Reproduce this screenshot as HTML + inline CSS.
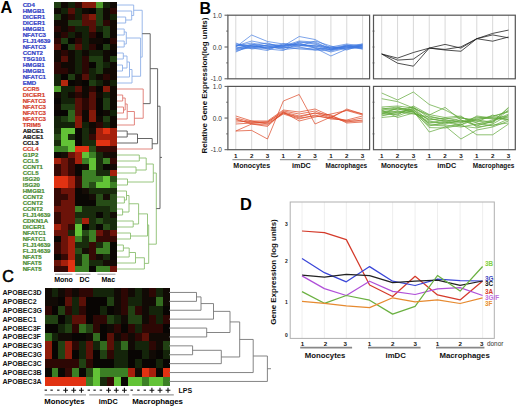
<!DOCTYPE html><html><head><meta charset="utf-8"><style>html,body{margin:0;padding:0;background:#fff;}svg{display:block;font-family:"Liberation Sans",sans-serif;}</style></head><body>
<svg width="520" height="408" viewBox="0 0 520 408">
<rect width="520" height="408" fill="#fff"/>
<text x="0.6" y="12.5" font-size="16.2" font-weight="bold" fill="#000" text-anchor="start" >A</text>
<text x="199.5" y="13.5" font-size="16" font-weight="bold" fill="#000" text-anchor="start" >B</text>
<text x="2.3" y="281.5" font-size="16" font-weight="normal" fill="#000" text-anchor="start" stroke="#000" stroke-width="0.6">C</text>
<text x="240.0" y="210.4" font-size="16.4" font-weight="bold" fill="#000" text-anchor="start" >D</text>
<g shape-rendering="crispEdges">
<rect x="54.00" y="2.00" width="7.05" height="6.05" fill="rgb(31,61,18)"/>
<rect x="61.00" y="2.00" width="7.05" height="6.05" fill="rgb(16,9,4)"/>
<rect x="68.00" y="2.00" width="7.05" height="6.05" fill="rgb(19,34,9)"/>
<rect x="75.00" y="2.00" width="7.05" height="6.05" fill="rgb(43,7,4)"/>
<rect x="82.00" y="2.00" width="7.05" height="6.05" fill="rgb(132,25,9)"/>
<rect x="89.00" y="2.00" width="7.05" height="6.05" fill="rgb(132,25,9)"/>
<rect x="96.00" y="2.00" width="7.05" height="6.05" fill="rgb(78,156,43)"/>
<rect x="103.00" y="2.00" width="7.05" height="6.05" fill="rgb(19,34,9)"/>
<rect x="110.00" y="2.00" width="7.05" height="6.05" fill="rgb(16,9,4)"/>
<rect x="54.00" y="8.00" width="7.05" height="6.05" fill="rgb(16,9,4)"/>
<rect x="61.00" y="8.00" width="7.05" height="6.05" fill="rgb(19,34,9)"/>
<rect x="68.00" y="8.00" width="7.05" height="6.05" fill="rgb(86,15,7)"/>
<rect x="75.00" y="8.00" width="7.05" height="6.05" fill="rgb(19,34,9)"/>
<rect x="82.00" y="8.00" width="7.05" height="6.05" fill="rgb(16,9,4)"/>
<rect x="89.00" y="8.00" width="7.05" height="6.05" fill="rgb(8,5,3)"/>
<rect x="96.00" y="8.00" width="7.05" height="6.05" fill="rgb(31,61,18)"/>
<rect x="103.00" y="8.00" width="7.05" height="6.05" fill="rgb(16,9,4)"/>
<rect x="110.00" y="8.00" width="7.05" height="6.05" fill="rgb(43,7,4)"/>
<rect x="54.00" y="14.00" width="7.05" height="6.05" fill="rgb(31,61,18)"/>
<rect x="61.00" y="14.00" width="7.05" height="6.05" fill="rgb(16,9,4)"/>
<rect x="68.00" y="14.00" width="7.05" height="6.05" fill="rgb(43,7,4)"/>
<rect x="75.00" y="14.00" width="7.05" height="6.05" fill="rgb(19,34,9)"/>
<rect x="82.00" y="14.00" width="7.05" height="6.05" fill="rgb(86,15,7)"/>
<rect x="89.00" y="14.00" width="7.05" height="6.05" fill="rgb(132,25,9)"/>
<rect x="96.00" y="14.00" width="7.05" height="6.05" fill="rgb(31,61,18)"/>
<rect x="103.00" y="14.00" width="7.05" height="6.05" fill="rgb(16,9,4)"/>
<rect x="110.00" y="14.00" width="7.05" height="6.05" fill="rgb(19,34,9)"/>
<rect x="54.00" y="20.00" width="7.05" height="6.05" fill="rgb(16,9,4)"/>
<rect x="61.00" y="20.00" width="7.05" height="6.05" fill="rgb(16,9,4)"/>
<rect x="68.00" y="20.00" width="7.05" height="6.05" fill="rgb(31,61,18)"/>
<rect x="75.00" y="20.00" width="7.05" height="6.05" fill="rgb(31,61,18)"/>
<rect x="82.00" y="20.00" width="7.05" height="6.05" fill="rgb(86,15,7)"/>
<rect x="89.00" y="20.00" width="7.05" height="6.05" fill="rgb(86,15,7)"/>
<rect x="96.00" y="20.00" width="7.05" height="6.05" fill="rgb(31,61,18)"/>
<rect x="103.00" y="20.00" width="7.05" height="6.05" fill="rgb(43,7,4)"/>
<rect x="110.00" y="20.00" width="7.05" height="6.05" fill="rgb(16,9,4)"/>
<rect x="54.00" y="26.00" width="7.05" height="6.05" fill="rgb(43,7,4)"/>
<rect x="61.00" y="26.00" width="7.05" height="6.05" fill="rgb(16,9,4)"/>
<rect x="68.00" y="26.00" width="7.05" height="6.05" fill="rgb(43,7,4)"/>
<rect x="75.00" y="26.00" width="7.05" height="6.05" fill="rgb(19,34,9)"/>
<rect x="82.00" y="26.00" width="7.05" height="6.05" fill="rgb(19,34,9)"/>
<rect x="89.00" y="26.00" width="7.05" height="6.05" fill="rgb(86,15,7)"/>
<rect x="96.00" y="26.00" width="7.05" height="6.05" fill="rgb(19,34,9)"/>
<rect x="103.00" y="26.00" width="7.05" height="6.05" fill="rgb(31,61,18)"/>
<rect x="110.00" y="26.00" width="7.05" height="6.05" fill="rgb(16,9,4)"/>
<rect x="54.00" y="32.00" width="7.05" height="6.05" fill="rgb(16,9,4)"/>
<rect x="61.00" y="32.00" width="7.05" height="6.05" fill="rgb(43,7,4)"/>
<rect x="68.00" y="32.00" width="7.05" height="6.05" fill="rgb(19,34,9)"/>
<rect x="75.00" y="32.00" width="7.05" height="6.05" fill="rgb(16,9,4)"/>
<rect x="82.00" y="32.00" width="7.05" height="6.05" fill="rgb(19,34,9)"/>
<rect x="89.00" y="32.00" width="7.05" height="6.05" fill="rgb(43,7,4)"/>
<rect x="96.00" y="32.00" width="7.05" height="6.05" fill="rgb(8,5,3)"/>
<rect x="103.00" y="32.00" width="7.05" height="6.05" fill="rgb(31,61,18)"/>
<rect x="110.00" y="32.00" width="7.05" height="6.05" fill="rgb(16,9,4)"/>
<rect x="54.00" y="38.00" width="7.05" height="6.05" fill="rgb(43,7,4)"/>
<rect x="61.00" y="38.00" width="7.05" height="6.05" fill="rgb(31,61,18)"/>
<rect x="68.00" y="38.00" width="7.05" height="6.05" fill="rgb(8,5,3)"/>
<rect x="75.00" y="38.00" width="7.05" height="6.05" fill="rgb(43,7,4)"/>
<rect x="82.00" y="38.00" width="7.05" height="6.05" fill="rgb(19,34,9)"/>
<rect x="89.00" y="38.00" width="7.05" height="6.05" fill="rgb(16,9,4)"/>
<rect x="96.00" y="38.00" width="7.05" height="6.05" fill="rgb(16,9,4)"/>
<rect x="103.00" y="38.00" width="7.05" height="6.05" fill="rgb(8,5,3)"/>
<rect x="110.00" y="38.00" width="7.05" height="6.05" fill="rgb(43,7,4)"/>
<rect x="54.00" y="44.00" width="7.05" height="6.05" fill="rgb(86,15,7)"/>
<rect x="61.00" y="44.00" width="7.05" height="6.05" fill="rgb(8,5,3)"/>
<rect x="68.00" y="44.00" width="7.05" height="6.05" fill="rgb(31,61,18)"/>
<rect x="75.00" y="44.00" width="7.05" height="6.05" fill="rgb(86,15,7)"/>
<rect x="82.00" y="44.00" width="7.05" height="6.05" fill="rgb(19,34,9)"/>
<rect x="89.00" y="44.00" width="7.05" height="6.05" fill="rgb(43,7,4)"/>
<rect x="96.00" y="44.00" width="7.05" height="6.05" fill="rgb(8,5,3)"/>
<rect x="103.00" y="44.00" width="7.05" height="6.05" fill="rgb(31,61,18)"/>
<rect x="110.00" y="44.00" width="7.05" height="6.05" fill="rgb(16,9,4)"/>
<rect x="54.00" y="50.00" width="7.05" height="6.05" fill="rgb(16,9,4)"/>
<rect x="61.00" y="50.00" width="7.05" height="6.05" fill="rgb(43,7,4)"/>
<rect x="68.00" y="50.00" width="7.05" height="6.05" fill="rgb(16,9,4)"/>
<rect x="75.00" y="50.00" width="7.05" height="6.05" fill="rgb(19,34,9)"/>
<rect x="82.00" y="50.00" width="7.05" height="6.05" fill="rgb(16,9,4)"/>
<rect x="89.00" y="50.00" width="7.05" height="6.05" fill="rgb(19,34,9)"/>
<rect x="96.00" y="50.00" width="7.05" height="6.05" fill="rgb(19,34,9)"/>
<rect x="103.00" y="50.00" width="7.05" height="6.05" fill="rgb(16,9,4)"/>
<rect x="110.00" y="50.00" width="7.05" height="6.05" fill="rgb(8,5,3)"/>
<rect x="54.00" y="56.00" width="7.05" height="6.05" fill="rgb(16,9,4)"/>
<rect x="61.00" y="56.00" width="7.05" height="6.05" fill="rgb(86,15,7)"/>
<rect x="68.00" y="56.00" width="7.05" height="6.05" fill="rgb(16,9,4)"/>
<rect x="75.00" y="56.00" width="7.05" height="6.05" fill="rgb(19,34,9)"/>
<rect x="82.00" y="56.00" width="7.05" height="6.05" fill="rgb(43,7,4)"/>
<rect x="89.00" y="56.00" width="7.05" height="6.05" fill="rgb(31,61,18)"/>
<rect x="96.00" y="56.00" width="7.05" height="6.05" fill="rgb(31,61,18)"/>
<rect x="103.00" y="56.00" width="7.05" height="6.05" fill="rgb(16,9,4)"/>
<rect x="110.00" y="56.00" width="7.05" height="6.05" fill="rgb(31,61,18)"/>
<rect x="54.00" y="62.00" width="7.05" height="6.05" fill="rgb(43,7,4)"/>
<rect x="61.00" y="62.00" width="7.05" height="6.05" fill="rgb(16,9,4)"/>
<rect x="68.00" y="62.00" width="7.05" height="6.05" fill="rgb(16,9,4)"/>
<rect x="75.00" y="62.00" width="7.05" height="6.05" fill="rgb(19,34,9)"/>
<rect x="82.00" y="62.00" width="7.05" height="6.05" fill="rgb(43,7,4)"/>
<rect x="89.00" y="62.00" width="7.05" height="6.05" fill="rgb(8,5,3)"/>
<rect x="96.00" y="62.00" width="7.05" height="6.05" fill="rgb(31,61,18)"/>
<rect x="103.00" y="62.00" width="7.05" height="6.05" fill="rgb(19,34,9)"/>
<rect x="110.00" y="62.00" width="7.05" height="6.05" fill="rgb(16,9,4)"/>
<rect x="54.00" y="68.00" width="7.05" height="6.05" fill="rgb(43,7,4)"/>
<rect x="61.00" y="68.00" width="7.05" height="6.05" fill="rgb(43,7,4)"/>
<rect x="68.00" y="68.00" width="7.05" height="6.05" fill="rgb(16,9,4)"/>
<rect x="75.00" y="68.00" width="7.05" height="6.05" fill="rgb(19,34,9)"/>
<rect x="82.00" y="68.00" width="7.05" height="6.05" fill="rgb(43,7,4)"/>
<rect x="89.00" y="68.00" width="7.05" height="6.05" fill="rgb(19,34,9)"/>
<rect x="96.00" y="68.00" width="7.05" height="6.05" fill="rgb(31,61,18)"/>
<rect x="103.00" y="68.00" width="7.05" height="6.05" fill="rgb(16,9,4)"/>
<rect x="110.00" y="68.00" width="7.05" height="6.05" fill="rgb(16,9,4)"/>
<rect x="54.00" y="74.00" width="7.05" height="6.05" fill="rgb(19,34,9)"/>
<rect x="61.00" y="74.00" width="7.05" height="6.05" fill="rgb(8,5,3)"/>
<rect x="68.00" y="74.00" width="7.05" height="6.05" fill="rgb(31,61,18)"/>
<rect x="75.00" y="74.00" width="7.05" height="6.05" fill="rgb(16,9,4)"/>
<rect x="82.00" y="74.00" width="7.05" height="6.05" fill="rgb(86,15,7)"/>
<rect x="89.00" y="74.00" width="7.05" height="6.05" fill="rgb(19,34,9)"/>
<rect x="96.00" y="74.00" width="7.05" height="6.05" fill="rgb(16,9,4)"/>
<rect x="103.00" y="74.00" width="7.05" height="6.05" fill="rgb(43,7,4)"/>
<rect x="110.00" y="74.00" width="7.05" height="6.05" fill="rgb(16,9,4)"/>
<rect x="54.00" y="80.00" width="7.05" height="6.05" fill="rgb(19,34,9)"/>
<rect x="61.00" y="80.00" width="7.05" height="6.05" fill="rgb(180,40,14)"/>
<rect x="68.00" y="80.00" width="7.05" height="6.05" fill="rgb(8,5,3)"/>
<rect x="75.00" y="80.00" width="7.05" height="6.05" fill="rgb(16,9,4)"/>
<rect x="82.00" y="80.00" width="7.05" height="6.05" fill="rgb(8,5,3)"/>
<rect x="89.00" y="80.00" width="7.05" height="6.05" fill="rgb(31,61,18)"/>
<rect x="96.00" y="80.00" width="7.05" height="6.05" fill="rgb(19,34,9)"/>
<rect x="103.00" y="80.00" width="7.05" height="6.05" fill="rgb(16,9,4)"/>
<rect x="110.00" y="80.00" width="7.05" height="6.05" fill="rgb(19,34,9)"/>
<rect x="54.00" y="86.00" width="7.05" height="6.05" fill="rgb(78,156,43)"/>
<rect x="61.00" y="86.00" width="7.05" height="6.05" fill="rgb(19,34,9)"/>
<rect x="68.00" y="86.00" width="7.05" height="6.05" fill="rgb(19,34,9)"/>
<rect x="75.00" y="86.00" width="7.05" height="6.05" fill="rgb(86,15,7)"/>
<rect x="82.00" y="86.00" width="7.05" height="6.05" fill="rgb(16,9,4)"/>
<rect x="89.00" y="86.00" width="7.05" height="6.05" fill="rgb(43,7,4)"/>
<rect x="96.00" y="86.00" width="7.05" height="6.05" fill="rgb(8,5,3)"/>
<rect x="103.00" y="86.00" width="7.05" height="6.05" fill="rgb(132,25,9)"/>
<rect x="110.00" y="86.00" width="7.05" height="6.05" fill="rgb(16,9,4)"/>
<rect x="54.00" y="92.00" width="7.05" height="6.05" fill="rgb(16,9,4)"/>
<rect x="61.00" y="92.00" width="7.05" height="6.05" fill="rgb(19,34,9)"/>
<rect x="68.00" y="92.00" width="7.05" height="6.05" fill="rgb(16,9,4)"/>
<rect x="75.00" y="92.00" width="7.05" height="6.05" fill="rgb(43,7,4)"/>
<rect x="82.00" y="92.00" width="7.05" height="6.05" fill="rgb(16,9,4)"/>
<rect x="89.00" y="92.00" width="7.05" height="6.05" fill="rgb(86,15,7)"/>
<rect x="96.00" y="92.00" width="7.05" height="6.05" fill="rgb(16,9,4)"/>
<rect x="103.00" y="92.00" width="7.05" height="6.05" fill="rgb(19,34,9)"/>
<rect x="110.00" y="92.00" width="7.05" height="6.05" fill="rgb(16,9,4)"/>
<rect x="54.00" y="98.00" width="7.05" height="6.05" fill="rgb(8,5,3)"/>
<rect x="61.00" y="98.00" width="7.05" height="6.05" fill="rgb(19,34,9)"/>
<rect x="68.00" y="98.00" width="7.05" height="6.05" fill="rgb(19,34,9)"/>
<rect x="75.00" y="98.00" width="7.05" height="6.05" fill="rgb(86,15,7)"/>
<rect x="82.00" y="98.00" width="7.05" height="6.05" fill="rgb(43,7,4)"/>
<rect x="89.00" y="98.00" width="7.05" height="6.05" fill="rgb(86,15,7)"/>
<rect x="96.00" y="98.00" width="7.05" height="6.05" fill="rgb(8,5,3)"/>
<rect x="103.00" y="98.00" width="7.05" height="6.05" fill="rgb(31,61,18)"/>
<rect x="110.00" y="98.00" width="7.05" height="6.05" fill="rgb(16,9,4)"/>
<rect x="54.00" y="104.00" width="7.05" height="6.05" fill="rgb(16,9,4)"/>
<rect x="61.00" y="104.00" width="7.05" height="6.05" fill="rgb(31,61,18)"/>
<rect x="68.00" y="104.00" width="7.05" height="6.05" fill="rgb(31,61,18)"/>
<rect x="75.00" y="104.00" width="7.05" height="6.05" fill="rgb(86,15,7)"/>
<rect x="82.00" y="104.00" width="7.05" height="6.05" fill="rgb(43,7,4)"/>
<rect x="89.00" y="104.00" width="7.05" height="6.05" fill="rgb(86,15,7)"/>
<rect x="96.00" y="104.00" width="7.05" height="6.05" fill="rgb(8,5,3)"/>
<rect x="103.00" y="104.00" width="7.05" height="6.05" fill="rgb(31,61,18)"/>
<rect x="110.00" y="104.00" width="7.05" height="6.05" fill="rgb(16,9,4)"/>
<rect x="54.00" y="110.00" width="7.05" height="6.05" fill="rgb(8,5,3)"/>
<rect x="61.00" y="110.00" width="7.05" height="6.05" fill="rgb(8,5,3)"/>
<rect x="68.00" y="110.00" width="7.05" height="6.05" fill="rgb(48,102,29)"/>
<rect x="75.00" y="110.00" width="7.05" height="6.05" fill="rgb(86,15,7)"/>
<rect x="82.00" y="110.00" width="7.05" height="6.05" fill="rgb(16,9,4)"/>
<rect x="89.00" y="110.00" width="7.05" height="6.05" fill="rgb(132,25,9)"/>
<rect x="96.00" y="110.00" width="7.05" height="6.05" fill="rgb(8,5,3)"/>
<rect x="103.00" y="110.00" width="7.05" height="6.05" fill="rgb(16,9,4)"/>
<rect x="110.00" y="110.00" width="7.05" height="6.05" fill="rgb(19,34,9)"/>
<rect x="54.00" y="116.00" width="7.05" height="6.05" fill="rgb(19,34,9)"/>
<rect x="61.00" y="116.00" width="7.05" height="6.05" fill="rgb(31,61,18)"/>
<rect x="68.00" y="116.00" width="7.05" height="6.05" fill="rgb(48,102,29)"/>
<rect x="75.00" y="116.00" width="7.05" height="6.05" fill="rgb(132,25,9)"/>
<rect x="82.00" y="116.00" width="7.05" height="6.05" fill="rgb(16,9,4)"/>
<rect x="89.00" y="116.00" width="7.05" height="6.05" fill="rgb(132,25,9)"/>
<rect x="96.00" y="116.00" width="7.05" height="6.05" fill="rgb(16,9,4)"/>
<rect x="103.00" y="116.00" width="7.05" height="6.05" fill="rgb(31,61,18)"/>
<rect x="110.00" y="116.00" width="7.05" height="6.05" fill="rgb(16,9,4)"/>
<rect x="54.00" y="122.00" width="7.05" height="6.05" fill="rgb(19,34,9)"/>
<rect x="61.00" y="122.00" width="7.05" height="6.05" fill="rgb(19,34,9)"/>
<rect x="68.00" y="122.00" width="7.05" height="6.05" fill="rgb(19,34,9)"/>
<rect x="75.00" y="122.00" width="7.05" height="6.05" fill="rgb(132,25,9)"/>
<rect x="82.00" y="122.00" width="7.05" height="6.05" fill="rgb(19,34,9)"/>
<rect x="89.00" y="122.00" width="7.05" height="6.05" fill="rgb(16,9,4)"/>
<rect x="96.00" y="122.00" width="7.05" height="6.05" fill="rgb(43,7,4)"/>
<rect x="103.00" y="122.00" width="7.05" height="6.05" fill="rgb(19,34,9)"/>
<rect x="110.00" y="122.00" width="7.05" height="6.05" fill="rgb(16,9,4)"/>
<rect x="54.00" y="128.00" width="7.05" height="6.05" fill="rgb(24,43,12)"/>
<rect x="61.00" y="128.00" width="7.05" height="6.05" fill="rgb(98,195,54)"/>
<rect x="68.00" y="128.00" width="7.05" height="6.05" fill="rgb(98,195,54)"/>
<rect x="75.00" y="128.00" width="7.05" height="6.05" fill="rgb(10,7,4)"/>
<rect x="82.00" y="128.00" width="7.05" height="6.05" fill="rgb(24,43,12)"/>
<rect x="89.00" y="128.00" width="7.05" height="6.05" fill="rgb(21,12,6)"/>
<rect x="96.00" y="128.00" width="7.05" height="6.05" fill="rgb(165,32,12)"/>
<rect x="103.00" y="128.00" width="7.05" height="6.05" fill="rgb(225,50,18)"/>
<rect x="110.00" y="128.00" width="7.05" height="6.05" fill="rgb(165,32,12)"/>
<rect x="54.00" y="134.00" width="7.05" height="6.05" fill="rgb(39,77,23)"/>
<rect x="61.00" y="134.00" width="7.05" height="6.05" fill="rgb(98,195,54)"/>
<rect x="68.00" y="134.00" width="7.05" height="6.05" fill="rgb(24,43,12)"/>
<rect x="75.00" y="134.00" width="7.05" height="6.05" fill="rgb(10,7,4)"/>
<rect x="82.00" y="134.00" width="7.05" height="6.05" fill="rgb(24,43,12)"/>
<rect x="89.00" y="134.00" width="7.05" height="6.05" fill="rgb(54,9,5)"/>
<rect x="96.00" y="134.00" width="7.05" height="6.05" fill="rgb(165,32,12)"/>
<rect x="103.00" y="134.00" width="7.05" height="6.05" fill="rgb(165,32,12)"/>
<rect x="110.00" y="134.00" width="7.05" height="6.05" fill="rgb(165,32,12)"/>
<rect x="54.00" y="140.00" width="7.05" height="6.05" fill="rgb(24,43,12)"/>
<rect x="61.00" y="140.00" width="7.05" height="6.05" fill="rgb(98,195,54)"/>
<rect x="68.00" y="140.00" width="7.05" height="6.05" fill="rgb(98,195,54)"/>
<rect x="75.00" y="140.00" width="7.05" height="6.05" fill="rgb(10,7,4)"/>
<rect x="82.00" y="140.00" width="7.05" height="6.05" fill="rgb(24,43,12)"/>
<rect x="89.00" y="140.00" width="7.05" height="6.05" fill="rgb(24,43,12)"/>
<rect x="96.00" y="140.00" width="7.05" height="6.05" fill="rgb(225,50,18)"/>
<rect x="103.00" y="140.00" width="7.05" height="6.05" fill="rgb(225,50,18)"/>
<rect x="110.00" y="140.00" width="7.05" height="6.05" fill="rgb(165,32,12)"/>
<rect x="54.00" y="146.00" width="7.05" height="6.05" fill="rgb(60,128,37)"/>
<rect x="61.00" y="146.00" width="7.05" height="6.05" fill="rgb(60,128,37)"/>
<rect x="68.00" y="146.00" width="7.05" height="6.05" fill="rgb(98,195,54)"/>
<rect x="75.00" y="146.00" width="7.05" height="6.05" fill="rgb(225,50,18)"/>
<rect x="82.00" y="146.00" width="7.05" height="6.05" fill="rgb(225,50,18)"/>
<rect x="89.00" y="146.00" width="7.05" height="6.05" fill="rgb(39,77,23)"/>
<rect x="96.00" y="146.00" width="7.05" height="6.05" fill="rgb(54,9,5)"/>
<rect x="103.00" y="146.00" width="7.05" height="6.05" fill="rgb(54,9,5)"/>
<rect x="110.00" y="146.00" width="7.05" height="6.05" fill="rgb(54,9,5)"/>
<rect x="54.00" y="152.00" width="7.05" height="6.05" fill="rgb(10,7,4)"/>
<rect x="61.00" y="152.00" width="7.05" height="6.05" fill="rgb(21,12,6)"/>
<rect x="68.00" y="152.00" width="7.05" height="6.05" fill="rgb(108,19,9)"/>
<rect x="75.00" y="152.00" width="7.05" height="6.05" fill="rgb(165,32,12)"/>
<rect x="82.00" y="152.00" width="7.05" height="6.05" fill="rgb(98,195,54)"/>
<rect x="89.00" y="152.00" width="7.05" height="6.05" fill="rgb(60,128,37)"/>
<rect x="96.00" y="152.00" width="7.05" height="6.05" fill="rgb(24,43,12)"/>
<rect x="103.00" y="152.00" width="7.05" height="6.05" fill="rgb(21,12,6)"/>
<rect x="110.00" y="152.00" width="7.05" height="6.05" fill="rgb(21,12,6)"/>
<rect x="54.00" y="158.00" width="7.05" height="6.05" fill="rgb(165,32,12)"/>
<rect x="61.00" y="158.00" width="7.05" height="6.05" fill="rgb(108,19,9)"/>
<rect x="68.00" y="158.00" width="7.05" height="6.05" fill="rgb(54,9,5)"/>
<rect x="75.00" y="158.00" width="7.05" height="6.05" fill="rgb(165,32,12)"/>
<rect x="82.00" y="158.00" width="7.05" height="6.05" fill="rgb(60,128,37)"/>
<rect x="89.00" y="158.00" width="7.05" height="6.05" fill="rgb(98,195,54)"/>
<rect x="96.00" y="158.00" width="7.05" height="6.05" fill="rgb(24,43,12)"/>
<rect x="103.00" y="158.00" width="7.05" height="6.05" fill="rgb(60,128,37)"/>
<rect x="110.00" y="158.00" width="7.05" height="6.05" fill="rgb(54,9,5)"/>
<rect x="54.00" y="164.00" width="7.05" height="6.05" fill="rgb(54,9,5)"/>
<rect x="61.00" y="164.00" width="7.05" height="6.05" fill="rgb(108,19,9)"/>
<rect x="68.00" y="164.00" width="7.05" height="6.05" fill="rgb(54,9,5)"/>
<rect x="75.00" y="164.00" width="7.05" height="6.05" fill="rgb(10,7,4)"/>
<rect x="82.00" y="164.00" width="7.05" height="6.05" fill="rgb(21,12,6)"/>
<rect x="89.00" y="164.00" width="7.05" height="6.05" fill="rgb(98,195,54)"/>
<rect x="96.00" y="164.00" width="7.05" height="6.05" fill="rgb(24,43,12)"/>
<rect x="103.00" y="164.00" width="7.05" height="6.05" fill="rgb(10,7,4)"/>
<rect x="110.00" y="164.00" width="7.05" height="6.05" fill="rgb(21,12,6)"/>
<rect x="54.00" y="170.00" width="7.05" height="6.05" fill="rgb(54,9,5)"/>
<rect x="61.00" y="170.00" width="7.05" height="6.05" fill="rgb(108,19,9)"/>
<rect x="68.00" y="170.00" width="7.05" height="6.05" fill="rgb(54,9,5)"/>
<rect x="75.00" y="170.00" width="7.05" height="6.05" fill="rgb(10,7,4)"/>
<rect x="82.00" y="170.00" width="7.05" height="6.05" fill="rgb(60,128,37)"/>
<rect x="89.00" y="170.00" width="7.05" height="6.05" fill="rgb(60,128,37)"/>
<rect x="96.00" y="170.00" width="7.05" height="6.05" fill="rgb(24,43,12)"/>
<rect x="103.00" y="170.00" width="7.05" height="6.05" fill="rgb(24,43,12)"/>
<rect x="110.00" y="170.00" width="7.05" height="6.05" fill="rgb(165,32,12)"/>
<rect x="54.00" y="176.00" width="7.05" height="6.05" fill="rgb(225,50,18)"/>
<rect x="61.00" y="176.00" width="7.05" height="6.05" fill="rgb(225,50,18)"/>
<rect x="68.00" y="176.00" width="7.05" height="6.05" fill="rgb(165,32,12)"/>
<rect x="75.00" y="176.00" width="7.05" height="6.05" fill="rgb(54,9,5)"/>
<rect x="82.00" y="176.00" width="7.05" height="6.05" fill="rgb(60,128,37)"/>
<rect x="89.00" y="176.00" width="7.05" height="6.05" fill="rgb(60,128,37)"/>
<rect x="96.00" y="176.00" width="7.05" height="6.05" fill="rgb(60,128,37)"/>
<rect x="103.00" y="176.00" width="7.05" height="6.05" fill="rgb(98,195,54)"/>
<rect x="110.00" y="176.00" width="7.05" height="6.05" fill="rgb(39,77,23)"/>
<rect x="54.00" y="182.00" width="7.05" height="6.05" fill="rgb(225,50,18)"/>
<rect x="61.00" y="182.00" width="7.05" height="6.05" fill="rgb(225,50,18)"/>
<rect x="68.00" y="182.00" width="7.05" height="6.05" fill="rgb(165,32,12)"/>
<rect x="75.00" y="182.00" width="7.05" height="6.05" fill="rgb(54,9,5)"/>
<rect x="82.00" y="182.00" width="7.05" height="6.05" fill="rgb(60,128,37)"/>
<rect x="89.00" y="182.00" width="7.05" height="6.05" fill="rgb(39,77,23)"/>
<rect x="96.00" y="182.00" width="7.05" height="6.05" fill="rgb(98,195,54)"/>
<rect x="103.00" y="182.00" width="7.05" height="6.05" fill="rgb(98,195,54)"/>
<rect x="110.00" y="182.00" width="7.05" height="6.05" fill="rgb(60,128,37)"/>
<rect x="54.00" y="188.00" width="7.05" height="6.05" fill="rgb(54,9,5)"/>
<rect x="61.00" y="188.00" width="7.05" height="6.05" fill="rgb(108,19,9)"/>
<rect x="68.00" y="188.00" width="7.05" height="6.05" fill="rgb(108,19,9)"/>
<rect x="75.00" y="188.00" width="7.05" height="6.05" fill="rgb(10,7,4)"/>
<rect x="82.00" y="188.00" width="7.05" height="6.05" fill="rgb(21,12,6)"/>
<rect x="89.00" y="188.00" width="7.05" height="6.05" fill="rgb(24,43,12)"/>
<rect x="96.00" y="188.00" width="7.05" height="6.05" fill="rgb(24,43,12)"/>
<rect x="103.00" y="188.00" width="7.05" height="6.05" fill="rgb(24,43,12)"/>
<rect x="110.00" y="188.00" width="7.05" height="6.05" fill="rgb(24,43,12)"/>
<rect x="54.00" y="194.00" width="7.05" height="6.05" fill="rgb(54,9,5)"/>
<rect x="61.00" y="194.00" width="7.05" height="6.05" fill="rgb(54,9,5)"/>
<rect x="68.00" y="194.00" width="7.05" height="6.05" fill="rgb(108,19,9)"/>
<rect x="75.00" y="194.00" width="7.05" height="6.05" fill="rgb(10,7,4)"/>
<rect x="82.00" y="194.00" width="7.05" height="6.05" fill="rgb(10,7,4)"/>
<rect x="89.00" y="194.00" width="7.05" height="6.05" fill="rgb(21,12,6)"/>
<rect x="96.00" y="194.00" width="7.05" height="6.05" fill="rgb(39,77,23)"/>
<rect x="103.00" y="194.00" width="7.05" height="6.05" fill="rgb(21,12,6)"/>
<rect x="110.00" y="194.00" width="7.05" height="6.05" fill="rgb(39,77,23)"/>
<rect x="54.00" y="200.00" width="7.05" height="6.05" fill="rgb(54,9,5)"/>
<rect x="61.00" y="200.00" width="7.05" height="6.05" fill="rgb(108,19,9)"/>
<rect x="68.00" y="200.00" width="7.05" height="6.05" fill="rgb(108,19,9)"/>
<rect x="75.00" y="200.00" width="7.05" height="6.05" fill="rgb(10,7,4)"/>
<rect x="82.00" y="200.00" width="7.05" height="6.05" fill="rgb(10,7,4)"/>
<rect x="89.00" y="200.00" width="7.05" height="6.05" fill="rgb(10,7,4)"/>
<rect x="96.00" y="200.00" width="7.05" height="6.05" fill="rgb(39,77,23)"/>
<rect x="103.00" y="200.00" width="7.05" height="6.05" fill="rgb(39,77,23)"/>
<rect x="110.00" y="200.00" width="7.05" height="6.05" fill="rgb(39,77,23)"/>
<rect x="54.00" y="206.00" width="7.05" height="6.05" fill="rgb(108,19,9)"/>
<rect x="61.00" y="206.00" width="7.05" height="6.05" fill="rgb(108,19,9)"/>
<rect x="68.00" y="206.00" width="7.05" height="6.05" fill="rgb(108,19,9)"/>
<rect x="75.00" y="206.00" width="7.05" height="6.05" fill="rgb(60,128,37)"/>
<rect x="82.00" y="206.00" width="7.05" height="6.05" fill="rgb(24,43,12)"/>
<rect x="89.00" y="206.00" width="7.05" height="6.05" fill="rgb(24,43,12)"/>
<rect x="96.00" y="206.00" width="7.05" height="6.05" fill="rgb(24,43,12)"/>
<rect x="103.00" y="206.00" width="7.05" height="6.05" fill="rgb(24,43,12)"/>
<rect x="110.00" y="206.00" width="7.05" height="6.05" fill="rgb(39,77,23)"/>
<rect x="54.00" y="212.00" width="7.05" height="6.05" fill="rgb(54,9,5)"/>
<rect x="61.00" y="212.00" width="7.05" height="6.05" fill="rgb(108,19,9)"/>
<rect x="68.00" y="212.00" width="7.05" height="6.05" fill="rgb(108,19,9)"/>
<rect x="75.00" y="212.00" width="7.05" height="6.05" fill="rgb(24,43,12)"/>
<rect x="82.00" y="212.00" width="7.05" height="6.05" fill="rgb(24,43,12)"/>
<rect x="89.00" y="212.00" width="7.05" height="6.05" fill="rgb(24,43,12)"/>
<rect x="96.00" y="212.00" width="7.05" height="6.05" fill="rgb(10,7,4)"/>
<rect x="103.00" y="212.00" width="7.05" height="6.05" fill="rgb(24,43,12)"/>
<rect x="110.00" y="212.00" width="7.05" height="6.05" fill="rgb(21,12,6)"/>
<rect x="54.00" y="218.00" width="7.05" height="6.05" fill="rgb(54,9,5)"/>
<rect x="61.00" y="218.00" width="7.05" height="6.05" fill="rgb(108,19,9)"/>
<rect x="68.00" y="218.00" width="7.05" height="6.05" fill="rgb(108,19,9)"/>
<rect x="75.00" y="218.00" width="7.05" height="6.05" fill="rgb(39,77,23)"/>
<rect x="82.00" y="218.00" width="7.05" height="6.05" fill="rgb(165,32,12)"/>
<rect x="89.00" y="218.00" width="7.05" height="6.05" fill="rgb(24,43,12)"/>
<rect x="96.00" y="218.00" width="7.05" height="6.05" fill="rgb(39,77,23)"/>
<rect x="103.00" y="218.00" width="7.05" height="6.05" fill="rgb(24,43,12)"/>
<rect x="110.00" y="218.00" width="7.05" height="6.05" fill="rgb(24,43,12)"/>
<rect x="54.00" y="224.00" width="7.05" height="6.05" fill="rgb(165,32,12)"/>
<rect x="61.00" y="224.00" width="7.05" height="6.05" fill="rgb(108,19,9)"/>
<rect x="68.00" y="224.00" width="7.05" height="6.05" fill="rgb(54,9,5)"/>
<rect x="75.00" y="224.00" width="7.05" height="6.05" fill="rgb(98,195,54)"/>
<rect x="82.00" y="224.00" width="7.05" height="6.05" fill="rgb(10,7,4)"/>
<rect x="89.00" y="224.00" width="7.05" height="6.05" fill="rgb(24,43,12)"/>
<rect x="96.00" y="224.00" width="7.05" height="6.05" fill="rgb(10,7,4)"/>
<rect x="103.00" y="224.00" width="7.05" height="6.05" fill="rgb(39,77,23)"/>
<rect x="110.00" y="224.00" width="7.05" height="6.05" fill="rgb(24,43,12)"/>
<rect x="54.00" y="230.00" width="7.05" height="6.05" fill="rgb(108,19,9)"/>
<rect x="61.00" y="230.00" width="7.05" height="6.05" fill="rgb(108,19,9)"/>
<rect x="68.00" y="230.00" width="7.05" height="6.05" fill="rgb(24,43,12)"/>
<rect x="75.00" y="230.00" width="7.05" height="6.05" fill="rgb(98,195,54)"/>
<rect x="82.00" y="230.00" width="7.05" height="6.05" fill="rgb(39,77,23)"/>
<rect x="89.00" y="230.00" width="7.05" height="6.05" fill="rgb(60,128,37)"/>
<rect x="96.00" y="230.00" width="7.05" height="6.05" fill="rgb(108,19,9)"/>
<rect x="103.00" y="230.00" width="7.05" height="6.05" fill="rgb(54,9,5)"/>
<rect x="110.00" y="230.00" width="7.05" height="6.05" fill="rgb(108,19,9)"/>
<rect x="54.00" y="236.00" width="7.05" height="6.05" fill="rgb(10,7,4)"/>
<rect x="61.00" y="236.00" width="7.05" height="6.05" fill="rgb(108,19,9)"/>
<rect x="68.00" y="236.00" width="7.05" height="6.05" fill="rgb(165,32,12)"/>
<rect x="75.00" y="236.00" width="7.05" height="6.05" fill="rgb(60,128,37)"/>
<rect x="82.00" y="236.00" width="7.05" height="6.05" fill="rgb(24,43,12)"/>
<rect x="89.00" y="236.00" width="7.05" height="6.05" fill="rgb(60,128,37)"/>
<rect x="96.00" y="236.00" width="7.05" height="6.05" fill="rgb(54,9,5)"/>
<rect x="103.00" y="236.00" width="7.05" height="6.05" fill="rgb(54,9,5)"/>
<rect x="110.00" y="236.00" width="7.05" height="6.05" fill="rgb(54,9,5)"/>
<rect x="54.00" y="242.00" width="7.05" height="6.05" fill="rgb(54,9,5)"/>
<rect x="61.00" y="242.00" width="7.05" height="6.05" fill="rgb(108,19,9)"/>
<rect x="68.00" y="242.00" width="7.05" height="6.05" fill="rgb(165,32,12)"/>
<rect x="75.00" y="242.00" width="7.05" height="6.05" fill="rgb(24,43,12)"/>
<rect x="82.00" y="242.00" width="7.05" height="6.05" fill="rgb(24,43,12)"/>
<rect x="89.00" y="242.00" width="7.05" height="6.05" fill="rgb(54,9,5)"/>
<rect x="96.00" y="242.00" width="7.05" height="6.05" fill="rgb(24,43,12)"/>
<rect x="103.00" y="242.00" width="7.05" height="6.05" fill="rgb(60,128,37)"/>
<rect x="110.00" y="242.00" width="7.05" height="6.05" fill="rgb(10,7,4)"/>
<rect x="54.00" y="248.00" width="7.05" height="6.05" fill="rgb(54,9,5)"/>
<rect x="61.00" y="248.00" width="7.05" height="6.05" fill="rgb(108,19,9)"/>
<rect x="68.00" y="248.00" width="7.05" height="6.05" fill="rgb(165,32,12)"/>
<rect x="75.00" y="248.00" width="7.05" height="6.05" fill="rgb(39,77,23)"/>
<rect x="82.00" y="248.00" width="7.05" height="6.05" fill="rgb(21,12,6)"/>
<rect x="89.00" y="248.00" width="7.05" height="6.05" fill="rgb(54,9,5)"/>
<rect x="96.00" y="248.00" width="7.05" height="6.05" fill="rgb(60,128,37)"/>
<rect x="103.00" y="248.00" width="7.05" height="6.05" fill="rgb(60,128,37)"/>
<rect x="110.00" y="248.00" width="7.05" height="6.05" fill="rgb(10,7,4)"/>
<rect x="54.00" y="254.00" width="7.05" height="6.05" fill="rgb(10,7,4)"/>
<rect x="61.00" y="254.00" width="7.05" height="6.05" fill="rgb(54,9,5)"/>
<rect x="68.00" y="254.00" width="7.05" height="6.05" fill="rgb(165,32,12)"/>
<rect x="75.00" y="254.00" width="7.05" height="6.05" fill="rgb(24,43,12)"/>
<rect x="82.00" y="254.00" width="7.05" height="6.05" fill="rgb(60,128,37)"/>
<rect x="89.00" y="254.00" width="7.05" height="6.05" fill="rgb(54,9,5)"/>
<rect x="96.00" y="254.00" width="7.05" height="6.05" fill="rgb(21,12,6)"/>
<rect x="103.00" y="254.00" width="7.05" height="6.05" fill="rgb(24,43,12)"/>
<rect x="110.00" y="254.00" width="7.05" height="6.05" fill="rgb(10,7,4)"/>
<rect x="54.00" y="260.00" width="7.05" height="6.05" fill="rgb(108,19,9)"/>
<rect x="61.00" y="260.00" width="7.05" height="6.05" fill="rgb(165,32,12)"/>
<rect x="68.00" y="260.00" width="7.05" height="6.05" fill="rgb(225,50,18)"/>
<rect x="75.00" y="260.00" width="7.05" height="6.05" fill="rgb(24,43,12)"/>
<rect x="82.00" y="260.00" width="7.05" height="6.05" fill="rgb(60,128,37)"/>
<rect x="89.00" y="260.00" width="7.05" height="6.05" fill="rgb(24,43,12)"/>
<rect x="96.00" y="260.00" width="7.05" height="6.05" fill="rgb(24,43,12)"/>
<rect x="103.00" y="260.00" width="7.05" height="6.05" fill="rgb(21,12,6)"/>
<rect x="110.00" y="260.00" width="7.05" height="6.05" fill="rgb(21,12,6)"/>
<rect x="54.00" y="266.00" width="7.05" height="6.05" fill="rgb(54,9,5)"/>
<rect x="61.00" y="266.00" width="7.05" height="6.05" fill="rgb(54,9,5)"/>
<rect x="68.00" y="266.00" width="7.05" height="6.05" fill="rgb(225,50,18)"/>
<rect x="75.00" y="266.00" width="7.05" height="6.05" fill="rgb(60,128,37)"/>
<rect x="82.00" y="266.00" width="7.05" height="6.05" fill="rgb(60,128,37)"/>
<rect x="89.00" y="266.00" width="7.05" height="6.05" fill="rgb(10,7,4)"/>
<rect x="96.00" y="266.00" width="7.05" height="6.05" fill="rgb(60,128,37)"/>
<rect x="103.00" y="266.00" width="7.05" height="6.05" fill="rgb(60,128,37)"/>
<rect x="110.00" y="266.00" width="7.05" height="6.05" fill="rgb(108,19,9)"/>
</g>
<text x="22.7" y="7.3" font-size="6.1" font-weight="bold" fill="#2f3cc4" text-anchor="start" stroke="#2f3cc4" stroke-width="0.18">CD4</text>
<text x="22.7" y="13.3" font-size="6.1" font-weight="bold" fill="#2f3cc4" text-anchor="start" stroke="#2f3cc4" stroke-width="0.18">HMGB1</text>
<text x="22.7" y="19.3" font-size="6.1" font-weight="bold" fill="#2f3cc4" text-anchor="start" stroke="#2f3cc4" stroke-width="0.18">DICER1</text>
<text x="22.7" y="25.3" font-size="6.1" font-weight="bold" fill="#2f3cc4" text-anchor="start" stroke="#2f3cc4" stroke-width="0.18">DICER1</text>
<text x="22.7" y="31.3" font-size="6.1" font-weight="bold" fill="#2f3cc4" text-anchor="start" stroke="#2f3cc4" stroke-width="0.18">HMGB1</text>
<text x="22.7" y="37.3" font-size="6.1" font-weight="bold" fill="#2f3cc4" text-anchor="start" stroke="#2f3cc4" stroke-width="0.18">NFATC3</text>
<text x="22.7" y="43.3" font-size="6.1" font-weight="bold" fill="#2f3cc4" text-anchor="start" stroke="#2f3cc4" stroke-width="0.18">FLJ14639</text>
<text x="22.7" y="49.3" font-size="6.1" font-weight="bold" fill="#2f3cc4" text-anchor="start" stroke="#2f3cc4" stroke-width="0.18">NFATC3</text>
<text x="22.7" y="55.3" font-size="6.1" font-weight="bold" fill="#2f3cc4" text-anchor="start" stroke="#2f3cc4" stroke-width="0.18">CCNT2</text>
<text x="22.7" y="61.3" font-size="6.1" font-weight="bold" fill="#2f3cc4" text-anchor="start" stroke="#2f3cc4" stroke-width="0.18">TSG101</text>
<text x="22.7" y="67.3" font-size="6.1" font-weight="bold" fill="#2f3cc4" text-anchor="start" stroke="#2f3cc4" stroke-width="0.18">HMGB1</text>
<text x="22.7" y="73.3" font-size="6.1" font-weight="bold" fill="#2f3cc4" text-anchor="start" stroke="#2f3cc4" stroke-width="0.18">HMGB1</text>
<text x="22.7" y="79.3" font-size="6.1" font-weight="bold" fill="#2f3cc4" text-anchor="start" stroke="#2f3cc4" stroke-width="0.18">NFATC1</text>
<text x="22.7" y="85.3" font-size="6.1" font-weight="bold" fill="#2f3cc4" text-anchor="start" stroke="#2f3cc4" stroke-width="0.18">EMD</text>
<text x="22.7" y="91.3" font-size="6.1" font-weight="bold" fill="#d43c28" text-anchor="start" stroke="#d43c28" stroke-width="0.18">CCR5</text>
<text x="22.7" y="97.3" font-size="6.1" font-weight="bold" fill="#d43c28" text-anchor="start" stroke="#d43c28" stroke-width="0.18">DICER1</text>
<text x="22.7" y="103.3" font-size="6.1" font-weight="bold" fill="#d43c28" text-anchor="start" stroke="#d43c28" stroke-width="0.18">NFATC3</text>
<text x="22.7" y="109.3" font-size="6.1" font-weight="bold" fill="#d43c28" text-anchor="start" stroke="#d43c28" stroke-width="0.18">NFATC3</text>
<text x="22.7" y="115.3" font-size="6.1" font-weight="bold" fill="#d43c28" text-anchor="start" stroke="#d43c28" stroke-width="0.18">NFATC3</text>
<text x="22.7" y="121.3" font-size="6.1" font-weight="bold" fill="#d43c28" text-anchor="start" stroke="#d43c28" stroke-width="0.18">NFATC3</text>
<text x="22.7" y="127.3" font-size="6.1" font-weight="bold" fill="#d43c28" text-anchor="start" stroke="#d43c28" stroke-width="0.18">TRIM5</text>
<text x="22.7" y="133.3" font-size="6.1" font-weight="bold" fill="#111" text-anchor="start" stroke="#111" stroke-width="0.18">ABCE1</text>
<text x="22.7" y="139.3" font-size="6.1" font-weight="bold" fill="#111" text-anchor="start" stroke="#111" stroke-width="0.18">ABCE1</text>
<text x="22.7" y="145.3" font-size="6.1" font-weight="bold" fill="#111" text-anchor="start" stroke="#111" stroke-width="0.18">CCL3</text>
<text x="22.7" y="151.3" font-size="6.1" font-weight="bold" fill="#d43c28" text-anchor="start" stroke="#d43c28" stroke-width="0.18">CCL4</text>
<text x="22.7" y="157.3" font-size="6.1" font-weight="bold" fill="#4a8c30" text-anchor="start" stroke="#4a8c30" stroke-width="0.18">G1P2</text>
<text x="22.7" y="163.3" font-size="6.1" font-weight="bold" fill="#4a8c30" text-anchor="start" stroke="#4a8c30" stroke-width="0.18">CCL5</text>
<text x="22.7" y="169.3" font-size="6.1" font-weight="bold" fill="#4a8c30" text-anchor="start" stroke="#4a8c30" stroke-width="0.18">CCNT1</text>
<text x="22.7" y="175.3" font-size="6.1" font-weight="bold" fill="#4a8c30" text-anchor="start" stroke="#4a8c30" stroke-width="0.18">CCL5</text>
<text x="22.7" y="181.3" font-size="6.1" font-weight="bold" fill="#4a8c30" text-anchor="start" stroke="#4a8c30" stroke-width="0.18">ISG20</text>
<text x="22.7" y="187.3" font-size="6.1" font-weight="bold" fill="#4a8c30" text-anchor="start" stroke="#4a8c30" stroke-width="0.18">ISG20</text>
<text x="22.7" y="193.3" font-size="6.1" font-weight="bold" fill="#4a8c30" text-anchor="start" stroke="#4a8c30" stroke-width="0.18">HMGB1</text>
<text x="22.7" y="199.3" font-size="6.1" font-weight="bold" fill="#4a8c30" text-anchor="start" stroke="#4a8c30" stroke-width="0.18">CCNT2</text>
<text x="22.7" y="205.3" font-size="6.1" font-weight="bold" fill="#4a8c30" text-anchor="start" stroke="#4a8c30" stroke-width="0.18">CCNT2</text>
<text x="22.7" y="211.3" font-size="6.1" font-weight="bold" fill="#4a8c30" text-anchor="start" stroke="#4a8c30" stroke-width="0.18">CCNT2</text>
<text x="22.7" y="217.3" font-size="6.1" font-weight="bold" fill="#4a8c30" text-anchor="start" stroke="#4a8c30" stroke-width="0.18">FLJ14639</text>
<text x="22.7" y="223.3" font-size="6.1" font-weight="bold" fill="#4a8c30" text-anchor="start" stroke="#4a8c30" stroke-width="0.18">CDKN1A</text>
<text x="22.7" y="229.3" font-size="6.1" font-weight="bold" fill="#4a8c30" text-anchor="start" stroke="#4a8c30" stroke-width="0.18">DICER1</text>
<text x="22.7" y="235.3" font-size="6.1" font-weight="bold" fill="#4a8c30" text-anchor="start" stroke="#4a8c30" stroke-width="0.18">NFATC1</text>
<text x="22.7" y="241.3" font-size="6.1" font-weight="bold" fill="#4a8c30" text-anchor="start" stroke="#4a8c30" stroke-width="0.18">NFATC1</text>
<text x="22.7" y="247.3" font-size="6.1" font-weight="bold" fill="#4a8c30" text-anchor="start" stroke="#4a8c30" stroke-width="0.18">FLJ14639</text>
<text x="22.7" y="253.3" font-size="6.1" font-weight="bold" fill="#4a8c30" text-anchor="start" stroke="#4a8c30" stroke-width="0.18">FLJ14639</text>
<text x="22.7" y="259.3" font-size="6.1" font-weight="bold" fill="#4a8c30" text-anchor="start" stroke="#4a8c30" stroke-width="0.18">NFAT5</text>
<text x="22.7" y="265.3" font-size="6.1" font-weight="bold" fill="#4a8c30" text-anchor="start" stroke="#4a8c30" stroke-width="0.18">NFAT5</text>
<text x="22.7" y="271.3" font-size="6.1" font-weight="bold" fill="#4a8c30" text-anchor="start" stroke="#4a8c30" stroke-width="0.18">NFAT5</text>
<g stroke="#999" stroke-width="1">
<line x1="55" y1="274.2" x2="72.4" y2="274.2"/>
<line x1="75.5" y1="274.2" x2="90.5" y2="274.2"/>
<line x1="97.4" y1="274.2" x2="115.5" y2="274.2"/>
</g>
<text x="63.5" y="282.2" font-size="7" font-weight="bold" fill="#000" text-anchor="middle" >Mono</text>
<text x="84.5" y="282.2" font-size="7" font-weight="bold" fill="#000" text-anchor="middle" >DC</text>
<text x="108.3" y="282.2" font-size="7" font-weight="bold" fill="#000" text-anchor="middle" >Mac</text>
<path d="M117.0,17H125.7V23H117.0" fill="none" stroke="#8fb0e8" stroke-width="0.9"/>
<path d="M117.0,11H131.7V20.0H125.7" fill="none" stroke="#8fb0e8" stroke-width="0.9"/>
<path d="M117.0,5H133.7V15.5H131.7" fill="none" stroke="#8fb0e8" stroke-width="0.9"/>
<path d="M117.0,29H124.2V35H117.0" fill="none" stroke="#8fb0e8" stroke-width="0.9"/>
<path d="M117.0,41H124.2V47H117.0" fill="none" stroke="#8fb0e8" stroke-width="0.9"/>
<path d="M124.2,32.0H126.3V44.0H124.2" fill="none" stroke="#8fb0e8" stroke-width="0.9"/>
<path d="M117.0,53H123.3V59H117.0" fill="none" stroke="#8fb0e8" stroke-width="0.9"/>
<path d="M117.0,65H122.5V71H117.0" fill="none" stroke="#8fb0e8" stroke-width="0.9"/>
<path d="M123.3,56.0H127V68.0H122.5" fill="none" stroke="#8fb0e8" stroke-width="0.9"/>
<path d="M127,62.0H129.5V77H117.0" fill="none" stroke="#8fb0e8" stroke-width="0.9"/>
<path d="M129.5,69.5H132V83H117.0" fill="none" stroke="#8fb0e8" stroke-width="0.9"/>
<path d="M126.3,38.0H140.6V76.25H132" fill="none" stroke="#8fb0e8" stroke-width="0.9"/>
<path d="M133.7,10.25H142.2V57.125H140.6" fill="none" stroke="#8fb0e8" stroke-width="0.9"/>
<path d="M117.0,95H122.7V101H117.0" fill="none" stroke="#e07870" stroke-width="0.9"/>
<path d="M117.0,107H123.5V113H117.0" fill="none" stroke="#e07870" stroke-width="0.9"/>
<path d="M122.7,98.0H125.2V110.0H123.5" fill="none" stroke="#e07870" stroke-width="0.9"/>
<path d="M125.2,104.0H127.2V119H117.0" fill="none" stroke="#e07870" stroke-width="0.9"/>
<path d="M127.2,111.5H134.4V125H117.0" fill="none" stroke="#e07870" stroke-width="0.9"/>
<path d="M117.0,89H143.2V118.25H134.4" fill="none" stroke="#e07870" stroke-width="0.9"/>
<path d="M142.2,33.6875H150.2V103.625H143.2" fill="none" stroke="#555" stroke-width="0.9"/>
<path d="M117.0,131H127.2V137H117.0" fill="none" stroke="#555" stroke-width="0.9"/>
<path d="M127.2,134.0H137.5V143H117.0" fill="none" stroke="#555" stroke-width="0.9"/>
<path d="M117,149H152.2" fill="none" stroke="#e07870" stroke-width="0.9"/>
<path d="M137.5,138.5H152.2V149H152.2" fill="none" stroke="#555" stroke-width="0.9"/>
<path d="M150.2,68.65625H157.6V143.75H152.2" fill="none" stroke="#555" stroke-width="0.9"/>
<path d="M117.0,155H139.3V161H117.0" fill="none" stroke="#8cc070" stroke-width="0.9"/>
<path d="M117.0,167H136V173H117.0" fill="none" stroke="#8cc070" stroke-width="0.9"/>
<path d="M139.3,158.0H146.2V170.0H136" fill="none" stroke="#8cc070" stroke-width="0.9"/>
<path d="M117.0,179H127.5V185H117.0" fill="none" stroke="#8cc070" stroke-width="0.9"/>
<path d="M146.2,164.0H153.3V182.0H127.5" fill="none" stroke="#8cc070" stroke-width="0.9"/>
<path d="M117.0,197H124.4V203H117.0" fill="none" stroke="#8cc070" stroke-width="0.9"/>
<path d="M117.0,191H126.5V200.0H124.4" fill="none" stroke="#8cc070" stroke-width="0.9"/>
<path d="M117.0,209H122.6V215H117.0" fill="none" stroke="#8cc070" stroke-width="0.9"/>
<path d="M126.5,195.5H129V212.0H122.6" fill="none" stroke="#8cc070" stroke-width="0.9"/>
<path d="M117.0,221H133.2V227H117.0" fill="none" stroke="#8cc070" stroke-width="0.9"/>
<path d="M129,203.75H138.6V224.0H133.2" fill="none" stroke="#8cc070" stroke-width="0.9"/>
<path d="M117.0,233H130.5V239H117.0" fill="none" stroke="#8cc070" stroke-width="0.9"/>
<path d="M138.6,213.875H147.5V236.0H130.5" fill="none" stroke="#8cc070" stroke-width="0.9"/>
<path d="M117.0,245H123.4V251H117.0" fill="none" stroke="#8cc070" stroke-width="0.9"/>
<path d="M123.4,248.0H129.2V257H117.0" fill="none" stroke="#8cc070" stroke-width="0.9"/>
<path d="M129.2,252.5H135.5V263H117.0" fill="none" stroke="#8cc070" stroke-width="0.9"/>
<path d="M135.5,257.75H144.4V269H117.0" fill="none" stroke="#8cc070" stroke-width="0.9"/>
<path d="M147.5,224.9375H148.7V263.375H144.4" fill="none" stroke="#8cc070" stroke-width="0.9"/>
<path d="M153.3,173.0H156.3V244.15625H148.7" fill="none" stroke="#8cc070" stroke-width="0.9"/>
<path d="M157.6,106.203125H160.0V208.578125H156.3" fill="none" stroke="#555" stroke-width="0.9"/>
<path d="M160,157.390625H162" fill="none" stroke="#555" stroke-width="0.9"/>
<g shape-rendering="crispEdges">
<rect x="44.60" y="288.00" width="6.99" height="8.95" fill="rgb(17,10,5)"/>
<rect x="51.54" y="288.00" width="6.99" height="8.95" fill="rgb(20,36,10)"/>
<rect x="58.48" y="288.00" width="6.99" height="8.95" fill="rgb(17,10,5)"/>
<rect x="65.42" y="288.00" width="6.99" height="8.95" fill="rgb(45,7,4)"/>
<rect x="72.36" y="288.00" width="6.99" height="8.95" fill="rgb(17,10,5)"/>
<rect x="79.30" y="288.00" width="6.99" height="8.95" fill="rgb(45,7,4)"/>
<rect x="86.24" y="288.00" width="6.99" height="8.95" fill="rgb(45,7,4)"/>
<rect x="93.18" y="288.00" width="6.99" height="8.95" fill="rgb(20,36,10)"/>
<rect x="100.12" y="288.00" width="6.99" height="8.95" fill="rgb(20,36,10)"/>
<rect x="107.06" y="288.00" width="6.99" height="8.95" fill="rgb(20,36,10)"/>
<rect x="114.00" y="288.00" width="6.99" height="8.95" fill="rgb(17,10,5)"/>
<rect x="120.94" y="288.00" width="6.99" height="8.95" fill="rgb(45,7,4)"/>
<rect x="127.88" y="288.00" width="6.99" height="8.95" fill="rgb(17,10,5)"/>
<rect x="134.82" y="288.00" width="6.99" height="8.95" fill="rgb(20,36,10)"/>
<rect x="141.76" y="288.00" width="6.99" height="8.95" fill="rgb(17,10,5)"/>
<rect x="148.70" y="288.00" width="6.99" height="8.95" fill="rgb(45,7,4)"/>
<rect x="155.64" y="288.00" width="6.99" height="8.95" fill="rgb(20,36,10)"/>
<rect x="162.58" y="288.00" width="6.99" height="8.95" fill="rgb(17,10,5)"/>
<rect x="44.60" y="296.90" width="6.99" height="8.95" fill="rgb(17,10,5)"/>
<rect x="51.54" y="296.90" width="6.99" height="8.95" fill="rgb(17,10,5)"/>
<rect x="58.48" y="296.90" width="6.99" height="8.95" fill="rgb(8,5,3)"/>
<rect x="65.42" y="296.90" width="6.99" height="8.95" fill="rgb(91,16,7)"/>
<rect x="72.36" y="296.90" width="6.99" height="8.95" fill="rgb(20,36,10)"/>
<rect x="79.30" y="296.90" width="6.99" height="8.95" fill="rgb(91,16,7)"/>
<rect x="86.24" y="296.90" width="6.99" height="8.95" fill="rgb(8,5,3)"/>
<rect x="93.18" y="296.90" width="6.99" height="8.95" fill="rgb(8,5,3)"/>
<rect x="100.12" y="296.90" width="6.99" height="8.95" fill="rgb(8,5,3)"/>
<rect x="107.06" y="296.90" width="6.99" height="8.95" fill="rgb(33,65,19)"/>
<rect x="114.00" y="296.90" width="6.99" height="8.95" fill="rgb(17,10,5)"/>
<rect x="120.94" y="296.90" width="6.99" height="8.95" fill="rgb(45,7,4)"/>
<rect x="127.88" y="296.90" width="6.99" height="8.95" fill="rgb(20,36,10)"/>
<rect x="134.82" y="296.90" width="6.99" height="8.95" fill="rgb(20,36,10)"/>
<rect x="141.76" y="296.90" width="6.99" height="8.95" fill="rgb(17,10,5)"/>
<rect x="148.70" y="296.90" width="6.99" height="8.95" fill="rgb(17,10,5)"/>
<rect x="155.64" y="296.90" width="6.99" height="8.95" fill="rgb(51,108,31)"/>
<rect x="162.58" y="296.90" width="6.99" height="8.95" fill="rgb(17,10,5)"/>
<rect x="44.60" y="305.80" width="6.99" height="8.95" fill="rgb(45,7,4)"/>
<rect x="51.54" y="305.80" width="6.99" height="8.95" fill="rgb(8,5,3)"/>
<rect x="58.48" y="305.80" width="6.99" height="8.95" fill="rgb(33,65,19)"/>
<rect x="65.42" y="305.80" width="6.99" height="8.95" fill="rgb(45,7,4)"/>
<rect x="72.36" y="305.80" width="6.99" height="8.95" fill="rgb(20,36,10)"/>
<rect x="79.30" y="305.80" width="6.99" height="8.95" fill="rgb(45,7,4)"/>
<rect x="86.24" y="305.80" width="6.99" height="8.95" fill="rgb(8,5,3)"/>
<rect x="93.18" y="305.80" width="6.99" height="8.95" fill="rgb(8,5,3)"/>
<rect x="100.12" y="305.80" width="6.99" height="8.95" fill="rgb(20,36,10)"/>
<rect x="107.06" y="305.80" width="6.99" height="8.95" fill="rgb(8,5,3)"/>
<rect x="114.00" y="305.80" width="6.99" height="8.95" fill="rgb(17,10,5)"/>
<rect x="120.94" y="305.80" width="6.99" height="8.95" fill="rgb(45,7,4)"/>
<rect x="127.88" y="305.80" width="6.99" height="8.95" fill="rgb(33,65,19)"/>
<rect x="134.82" y="305.80" width="6.99" height="8.95" fill="rgb(45,7,4)"/>
<rect x="141.76" y="305.80" width="6.99" height="8.95" fill="rgb(17,10,5)"/>
<rect x="148.70" y="305.80" width="6.99" height="8.95" fill="rgb(20,36,10)"/>
<rect x="155.64" y="305.80" width="6.99" height="8.95" fill="rgb(20,36,10)"/>
<rect x="162.58" y="305.80" width="6.99" height="8.95" fill="rgb(8,5,3)"/>
<rect x="44.60" y="314.70" width="6.99" height="8.95" fill="rgb(33,65,19)"/>
<rect x="51.54" y="314.70" width="6.99" height="8.95" fill="rgb(33,65,19)"/>
<rect x="58.48" y="314.70" width="6.99" height="8.95" fill="rgb(8,5,3)"/>
<rect x="65.42" y="314.70" width="6.99" height="8.95" fill="rgb(20,36,10)"/>
<rect x="72.36" y="314.70" width="6.99" height="8.95" fill="rgb(91,16,7)"/>
<rect x="79.30" y="314.70" width="6.99" height="8.95" fill="rgb(91,16,7)"/>
<rect x="86.24" y="314.70" width="6.99" height="8.95" fill="rgb(8,5,3)"/>
<rect x="93.18" y="314.70" width="6.99" height="8.95" fill="rgb(45,7,4)"/>
<rect x="100.12" y="314.70" width="6.99" height="8.95" fill="rgb(45,7,4)"/>
<rect x="107.06" y="314.70" width="6.99" height="8.95" fill="rgb(33,65,19)"/>
<rect x="114.00" y="314.70" width="6.99" height="8.95" fill="rgb(20,36,10)"/>
<rect x="120.94" y="314.70" width="6.99" height="8.95" fill="rgb(17,10,5)"/>
<rect x="127.88" y="314.70" width="6.99" height="8.95" fill="rgb(33,65,19)"/>
<rect x="134.82" y="314.70" width="6.99" height="8.95" fill="rgb(33,65,19)"/>
<rect x="141.76" y="314.70" width="6.99" height="8.95" fill="rgb(17,10,5)"/>
<rect x="148.70" y="314.70" width="6.99" height="8.95" fill="rgb(45,7,4)"/>
<rect x="155.64" y="314.70" width="6.99" height="8.95" fill="rgb(20,36,10)"/>
<rect x="162.58" y="314.70" width="6.99" height="8.95" fill="rgb(45,7,4)"/>
<rect x="44.60" y="323.60" width="6.99" height="8.95" fill="rgb(8,5,3)"/>
<rect x="51.54" y="323.60" width="6.99" height="8.95" fill="rgb(8,5,3)"/>
<rect x="58.48" y="323.60" width="6.99" height="8.95" fill="rgb(20,36,10)"/>
<rect x="65.42" y="323.60" width="6.99" height="8.95" fill="rgb(33,65,19)"/>
<rect x="72.36" y="323.60" width="6.99" height="8.95" fill="rgb(45,7,4)"/>
<rect x="79.30" y="323.60" width="6.99" height="8.95" fill="rgb(51,108,31)"/>
<rect x="86.24" y="323.60" width="6.99" height="8.95" fill="rgb(33,65,19)"/>
<rect x="93.18" y="323.60" width="6.99" height="8.95" fill="rgb(45,7,4)"/>
<rect x="100.12" y="323.60" width="6.99" height="8.95" fill="rgb(8,5,3)"/>
<rect x="107.06" y="323.60" width="6.99" height="8.95" fill="rgb(17,10,5)"/>
<rect x="114.00" y="323.60" width="6.99" height="8.95" fill="rgb(45,7,4)"/>
<rect x="120.94" y="323.60" width="6.99" height="8.95" fill="rgb(8,5,3)"/>
<rect x="127.88" y="323.60" width="6.99" height="8.95" fill="rgb(45,7,4)"/>
<rect x="134.82" y="323.60" width="6.99" height="8.95" fill="rgb(20,36,10)"/>
<rect x="141.76" y="323.60" width="6.99" height="8.95" fill="rgb(45,7,4)"/>
<rect x="148.70" y="323.60" width="6.99" height="8.95" fill="rgb(45,7,4)"/>
<rect x="155.64" y="323.60" width="6.99" height="8.95" fill="rgb(45,7,4)"/>
<rect x="162.58" y="323.60" width="6.99" height="8.95" fill="rgb(8,5,3)"/>
<rect x="44.60" y="332.50" width="6.99" height="8.95" fill="rgb(51,108,31)"/>
<rect x="51.54" y="332.50" width="6.99" height="8.95" fill="rgb(20,36,10)"/>
<rect x="58.48" y="332.50" width="6.99" height="8.95" fill="rgb(17,10,5)"/>
<rect x="65.42" y="332.50" width="6.99" height="8.95" fill="rgb(17,10,5)"/>
<rect x="72.36" y="332.50" width="6.99" height="8.95" fill="rgb(8,5,3)"/>
<rect x="79.30" y="332.50" width="6.99" height="8.95" fill="rgb(8,5,3)"/>
<rect x="86.24" y="332.50" width="6.99" height="8.95" fill="rgb(17,10,5)"/>
<rect x="93.18" y="332.50" width="6.99" height="8.95" fill="rgb(51,108,31)"/>
<rect x="100.12" y="332.50" width="6.99" height="8.95" fill="rgb(8,5,3)"/>
<rect x="107.06" y="332.50" width="6.99" height="8.95" fill="rgb(91,16,7)"/>
<rect x="114.00" y="332.50" width="6.99" height="8.95" fill="rgb(17,10,5)"/>
<rect x="120.94" y="332.50" width="6.99" height="8.95" fill="rgb(45,7,4)"/>
<rect x="127.88" y="332.50" width="6.99" height="8.95" fill="rgb(17,10,5)"/>
<rect x="134.82" y="332.50" width="6.99" height="8.95" fill="rgb(45,7,4)"/>
<rect x="141.76" y="332.50" width="6.99" height="8.95" fill="rgb(91,16,7)"/>
<rect x="148.70" y="332.50" width="6.99" height="8.95" fill="rgb(17,10,5)"/>
<rect x="155.64" y="332.50" width="6.99" height="8.95" fill="rgb(17,10,5)"/>
<rect x="162.58" y="332.50" width="6.99" height="8.95" fill="rgb(17,10,5)"/>
<rect x="44.60" y="341.40" width="6.99" height="8.95" fill="rgb(140,27,10)"/>
<rect x="51.54" y="341.40" width="6.99" height="8.95" fill="rgb(8,5,3)"/>
<rect x="58.48" y="341.40" width="6.99" height="8.95" fill="rgb(33,65,19)"/>
<rect x="65.42" y="341.40" width="6.99" height="8.95" fill="rgb(140,27,10)"/>
<rect x="72.36" y="341.40" width="6.99" height="8.95" fill="rgb(45,7,4)"/>
<rect x="79.30" y="341.40" width="6.99" height="8.95" fill="rgb(20,36,10)"/>
<rect x="86.24" y="341.40" width="6.99" height="8.95" fill="rgb(91,16,7)"/>
<rect x="93.18" y="341.40" width="6.99" height="8.95" fill="rgb(20,36,10)"/>
<rect x="100.12" y="341.40" width="6.99" height="8.95" fill="rgb(51,108,31)"/>
<rect x="107.06" y="341.40" width="6.99" height="8.95" fill="rgb(91,16,7)"/>
<rect x="114.00" y="341.40" width="6.99" height="8.95" fill="rgb(20,36,10)"/>
<rect x="120.94" y="341.40" width="6.99" height="8.95" fill="rgb(51,108,31)"/>
<rect x="127.88" y="341.40" width="6.99" height="8.95" fill="rgb(17,10,5)"/>
<rect x="134.82" y="341.40" width="6.99" height="8.95" fill="rgb(20,36,10)"/>
<rect x="141.76" y="341.40" width="6.99" height="8.95" fill="rgb(20,36,10)"/>
<rect x="148.70" y="341.40" width="6.99" height="8.95" fill="rgb(45,7,4)"/>
<rect x="155.64" y="341.40" width="6.99" height="8.95" fill="rgb(17,10,5)"/>
<rect x="162.58" y="341.40" width="6.99" height="8.95" fill="rgb(33,65,19)"/>
<rect x="44.60" y="350.30" width="6.99" height="8.95" fill="rgb(140,27,10)"/>
<rect x="51.54" y="350.30" width="6.99" height="8.95" fill="rgb(8,5,3)"/>
<rect x="58.48" y="350.30" width="6.99" height="8.95" fill="rgb(33,65,19)"/>
<rect x="65.42" y="350.30" width="6.99" height="8.95" fill="rgb(140,27,10)"/>
<rect x="72.36" y="350.30" width="6.99" height="8.95" fill="rgb(8,5,3)"/>
<rect x="79.30" y="350.30" width="6.99" height="8.95" fill="rgb(20,36,10)"/>
<rect x="86.24" y="350.30" width="6.99" height="8.95" fill="rgb(91,16,7)"/>
<rect x="93.18" y="350.30" width="6.99" height="8.95" fill="rgb(8,5,3)"/>
<rect x="100.12" y="350.30" width="6.99" height="8.95" fill="rgb(33,65,19)"/>
<rect x="107.06" y="350.30" width="6.99" height="8.95" fill="rgb(45,7,4)"/>
<rect x="114.00" y="350.30" width="6.99" height="8.95" fill="rgb(20,36,10)"/>
<rect x="120.94" y="350.30" width="6.99" height="8.95" fill="rgb(20,36,10)"/>
<rect x="127.88" y="350.30" width="6.99" height="8.95" fill="rgb(8,5,3)"/>
<rect x="134.82" y="350.30" width="6.99" height="8.95" fill="rgb(8,5,3)"/>
<rect x="141.76" y="350.30" width="6.99" height="8.95" fill="rgb(20,36,10)"/>
<rect x="148.70" y="350.30" width="6.99" height="8.95" fill="rgb(17,10,5)"/>
<rect x="155.64" y="350.30" width="6.99" height="8.95" fill="rgb(8,5,3)"/>
<rect x="162.58" y="350.30" width="6.99" height="8.95" fill="rgb(20,36,10)"/>
<rect x="44.60" y="359.20" width="6.99" height="8.95" fill="rgb(45,7,4)"/>
<rect x="51.54" y="359.20" width="6.99" height="8.95" fill="rgb(45,7,4)"/>
<rect x="58.48" y="359.20" width="6.99" height="8.95" fill="rgb(45,7,4)"/>
<rect x="65.42" y="359.20" width="6.99" height="8.95" fill="rgb(45,7,4)"/>
<rect x="72.36" y="359.20" width="6.99" height="8.95" fill="rgb(45,7,4)"/>
<rect x="79.30" y="359.20" width="6.99" height="8.95" fill="rgb(33,65,19)"/>
<rect x="86.24" y="359.20" width="6.99" height="8.95" fill="rgb(45,7,4)"/>
<rect x="93.18" y="359.20" width="6.99" height="8.95" fill="rgb(8,5,3)"/>
<rect x="100.12" y="359.20" width="6.99" height="8.95" fill="rgb(8,5,3)"/>
<rect x="107.06" y="359.20" width="6.99" height="8.95" fill="rgb(8,5,3)"/>
<rect x="114.00" y="359.20" width="6.99" height="8.95" fill="rgb(20,36,10)"/>
<rect x="120.94" y="359.20" width="6.99" height="8.95" fill="rgb(20,36,10)"/>
<rect x="127.88" y="359.20" width="6.99" height="8.95" fill="rgb(8,5,3)"/>
<rect x="134.82" y="359.20" width="6.99" height="8.95" fill="rgb(20,36,10)"/>
<rect x="141.76" y="359.20" width="6.99" height="8.95" fill="rgb(8,5,3)"/>
<rect x="148.70" y="359.20" width="6.99" height="8.95" fill="rgb(8,5,3)"/>
<rect x="155.64" y="359.20" width="6.99" height="8.95" fill="rgb(20,36,10)"/>
<rect x="162.58" y="359.20" width="6.99" height="8.95" fill="rgb(8,5,3)"/>
<rect x="44.60" y="368.10" width="6.99" height="8.95" fill="rgb(10,7,4)"/>
<rect x="51.54" y="368.10" width="6.99" height="8.95" fill="rgb(60,128,37)"/>
<rect x="58.48" y="368.10" width="6.99" height="8.95" fill="rgb(10,7,4)"/>
<rect x="65.42" y="368.10" width="6.99" height="8.95" fill="rgb(54,9,5)"/>
<rect x="72.36" y="368.10" width="6.99" height="8.95" fill="rgb(60,128,37)"/>
<rect x="79.30" y="368.10" width="6.99" height="8.95" fill="rgb(10,7,4)"/>
<rect x="86.24" y="368.10" width="6.99" height="8.95" fill="rgb(39,77,23)"/>
<rect x="93.18" y="368.10" width="6.99" height="8.95" fill="rgb(98,195,54)"/>
<rect x="100.12" y="368.10" width="6.99" height="8.95" fill="rgb(60,128,37)"/>
<rect x="107.06" y="368.10" width="6.99" height="8.95" fill="rgb(60,128,37)"/>
<rect x="114.00" y="368.10" width="6.99" height="8.95" fill="rgb(60,128,37)"/>
<rect x="120.94" y="368.10" width="6.99" height="8.95" fill="rgb(60,128,37)"/>
<rect x="127.88" y="368.10" width="6.99" height="8.95" fill="rgb(165,32,12)"/>
<rect x="134.82" y="368.10" width="6.99" height="8.95" fill="rgb(21,12,6)"/>
<rect x="141.76" y="368.10" width="6.99" height="8.95" fill="rgb(225,50,18)"/>
<rect x="148.70" y="368.10" width="6.99" height="8.95" fill="rgb(165,32,12)"/>
<rect x="155.64" y="368.10" width="6.99" height="8.95" fill="rgb(10,7,4)"/>
<rect x="162.58" y="368.10" width="6.99" height="8.95" fill="rgb(225,50,18)"/>
<rect x="44.60" y="377.00" width="6.99" height="8.95" fill="rgb(225,50,18)"/>
<rect x="51.54" y="377.00" width="6.99" height="8.95" fill="rgb(225,50,18)"/>
<rect x="58.48" y="377.00" width="6.99" height="8.95" fill="rgb(225,50,18)"/>
<rect x="65.42" y="377.00" width="6.99" height="8.95" fill="rgb(225,50,18)"/>
<rect x="72.36" y="377.00" width="6.99" height="8.95" fill="rgb(225,50,18)"/>
<rect x="79.30" y="377.00" width="6.99" height="8.95" fill="rgb(225,50,18)"/>
<rect x="86.24" y="377.00" width="6.99" height="8.95" fill="rgb(60,128,37)"/>
<rect x="93.18" y="377.00" width="6.99" height="8.95" fill="rgb(98,195,54)"/>
<rect x="100.12" y="377.00" width="6.99" height="8.95" fill="rgb(24,43,12)"/>
<rect x="107.06" y="377.00" width="6.99" height="8.95" fill="rgb(54,9,5)"/>
<rect x="114.00" y="377.00" width="6.99" height="8.95" fill="rgb(98,195,54)"/>
<rect x="120.94" y="377.00" width="6.99" height="8.95" fill="rgb(10,7,4)"/>
<rect x="127.88" y="377.00" width="6.99" height="8.95" fill="rgb(98,195,54)"/>
<rect x="134.82" y="377.00" width="6.99" height="8.95" fill="rgb(98,195,54)"/>
<rect x="141.76" y="377.00" width="6.99" height="8.95" fill="rgb(60,128,37)"/>
<rect x="148.70" y="377.00" width="6.99" height="8.95" fill="rgb(98,195,54)"/>
<rect x="155.64" y="377.00" width="6.99" height="8.95" fill="rgb(98,195,54)"/>
<rect x="162.58" y="377.00" width="6.99" height="8.95" fill="rgb(60,128,37)"/>
</g>
<text x="2.5" y="294.95" font-size="7.05" font-weight="bold" fill="#111" text-anchor="start" >APOBEC3D</text>
<text x="2.5" y="303.84999999999997" font-size="7.05" font-weight="bold" fill="#111" text-anchor="start" >APOBEC2</text>
<text x="2.5" y="312.75" font-size="7.05" font-weight="bold" fill="#111" text-anchor="start" >APOBEC3G</text>
<text x="2.5" y="321.65" font-size="7.05" font-weight="bold" fill="#111" text-anchor="start" >APOBEC1</text>
<text x="2.5" y="330.55" font-size="7.05" font-weight="bold" fill="#111" text-anchor="start" >APOBEC3F</text>
<text x="2.5" y="339.45" font-size="7.05" font-weight="bold" fill="#111" text-anchor="start" >APOBEC3F</text>
<text x="2.5" y="348.34999999999997" font-size="7.05" font-weight="bold" fill="#111" text-anchor="start" >APOBEC3G</text>
<text x="2.5" y="357.25" font-size="7.05" font-weight="bold" fill="#111" text-anchor="start" >APOBEC3G</text>
<text x="2.5" y="366.15" font-size="7.05" font-weight="bold" fill="#111" text-anchor="start" >APOBEC3C</text>
<text x="2.5" y="375.05" font-size="7.05" font-weight="bold" fill="#111" text-anchor="start" >APOBEC3B</text>
<text x="2.5" y="383.95" font-size="7.05" font-weight="bold" fill="#111" text-anchor="start" >APOBEC3A</text>
<rect x="44.60" y="389.6" width="2.4" height="1.1" fill="#111"/>
<rect x="50.40" y="389.6" width="2.4" height="1.1" fill="#111"/>
<rect x="57.10" y="389.6" width="2.4" height="1.1" fill="#111"/>
<path d="M63.20,390.25H68.00M65.60,387.8V392.7" stroke="#111" stroke-width="1.1" fill="none"/>
<path d="M71.30,390.25H76.10M73.70,387.8V392.7" stroke="#111" stroke-width="1.1" fill="none"/>
<path d="M79.00,390.25H83.80M81.40,387.8V392.7" stroke="#111" stroke-width="1.1" fill="none"/>
<rect x="87.60" y="389.6" width="2.4" height="1.1" fill="#111"/>
<rect x="93.40" y="389.6" width="2.4" height="1.1" fill="#111"/>
<rect x="99.70" y="389.6" width="2.4" height="1.1" fill="#111"/>
<path d="M106.20,390.25H111.00M108.60,387.8V392.7" stroke="#111" stroke-width="1.1" fill="none"/>
<path d="M113.90,390.25H118.70M116.30,387.8V392.7" stroke="#111" stroke-width="1.1" fill="none"/>
<path d="M122.00,390.25H126.80M124.40,387.8V392.7" stroke="#111" stroke-width="1.1" fill="none"/>
<rect x="130.50" y="389.6" width="2.4" height="1.1" fill="#111"/>
<rect x="137.20" y="389.6" width="2.4" height="1.1" fill="#111"/>
<rect x="143.60" y="389.6" width="2.4" height="1.1" fill="#111"/>
<path d="M149.50,390.25H154.30M151.90,387.8V392.7" stroke="#111" stroke-width="1.1" fill="none"/>
<path d="M157.60,390.25H162.40M160.00,387.8V392.7" stroke="#111" stroke-width="1.1" fill="none"/>
<path d="M165.60,390.25H170.40M168.00,387.8V392.7" stroke="#111" stroke-width="1.1" fill="none"/>
<text x="178.6" y="393.0" font-size="7" font-weight="bold" fill="#111" text-anchor="start" >LPS</text>
<g stroke="#999" stroke-width="1.2">
<line x1="44.6" y1="394.8" x2="86" y2="394.8"/>
<line x1="89.2" y1="394.8" x2="129.2" y2="394.8"/>
<line x1="132.3" y1="394.8" x2="173.8" y2="394.8"/>
</g>
<text x="64.45" y="404.2" font-size="7.9" font-weight="bold" fill="#000" text-anchor="middle" textLength="40.3" lengthAdjust="spacingAndGlyphs">Monocytes</text>
<text x="108.25" y="404.2" font-size="7.9" font-weight="bold" fill="#000" text-anchor="middle" textLength="18.9" lengthAdjust="spacingAndGlyphs">imDC</text>
<text x="157.65" y="404.2" font-size="7.9" font-weight="bold" fill="#000" text-anchor="middle" textLength="50.7" lengthAdjust="spacingAndGlyphs">Macrophages</text>
<path d="M169.0,292.45H196.5V301.35H169.0" fill="none" stroke="#777" stroke-width="0.9"/>
<path d="M196.5,296.90H201V310.25H169.0" fill="none" stroke="#777" stroke-width="0.9"/>
<path d="M201,303.57H213.5V319.15H169.0" fill="none" stroke="#777" stroke-width="0.9"/>
<path d="M169.0,328.05H206.7V336.95H169.0" fill="none" stroke="#777" stroke-width="0.9"/>
<path d="M213.5,311.36H230V332.50H206.7" fill="none" stroke="#777" stroke-width="0.9"/>
<path d="M169.0,345.85H192.6V354.75H169.0" fill="none" stroke="#777" stroke-width="0.9"/>
<path d="M192.6,350.30H221.3V363.65H169.0" fill="none" stroke="#777" stroke-width="0.9"/>
<path d="M230,321.93H239.7V356.97H221.3" fill="none" stroke="#777" stroke-width="0.9"/>
<path d="M239.7,339.45H253.2V372.55H169.0" fill="none" stroke="#777" stroke-width="0.9"/>
<path d="M253.2,356.00H267.4V381.45H169.0" fill="none" stroke="#777" stroke-width="0.9"/>
<path d="M267.4,368.73H271" fill="none" stroke="#777" stroke-width="0.9"/>
<line x1="235.80" y1="15.2" x2="235.80" y2="78.8" stroke="#d4d4d4" stroke-width="0.9"/>
<line x1="251.65" y1="15.2" x2="251.65" y2="78.8" stroke="#d4d4d4" stroke-width="0.9"/>
<line x1="267.50" y1="15.2" x2="267.50" y2="78.8" stroke="#d4d4d4" stroke-width="0.9"/>
<line x1="283.35" y1="15.2" x2="283.35" y2="78.8" stroke="#d4d4d4" stroke-width="0.9"/>
<line x1="299.20" y1="15.2" x2="299.20" y2="78.8" stroke="#d4d4d4" stroke-width="0.9"/>
<line x1="315.05" y1="15.2" x2="315.05" y2="78.8" stroke="#d4d4d4" stroke-width="0.9"/>
<line x1="330.90" y1="15.2" x2="330.90" y2="78.8" stroke="#d4d4d4" stroke-width="0.9"/>
<line x1="346.75" y1="15.2" x2="346.75" y2="78.8" stroke="#d4d4d4" stroke-width="0.9"/>
<line x1="362.60" y1="15.2" x2="362.60" y2="78.8" stroke="#d4d4d4" stroke-width="0.9"/>
<rect x="227.9" y="15.2" width="141.70000000000002" height="63.599999999999994" fill="none" stroke="#555" stroke-width="1.2"/>
<line x1="224.5" y1="15.2" x2="227.9" y2="15.2" stroke="#555" stroke-width="1"/>
<line x1="224.5" y1="47.0" x2="227.9" y2="47.0" stroke="#555" stroke-width="1"/>
<line x1="224.5" y1="78.8" x2="227.9" y2="78.8" stroke="#555" stroke-width="1"/>
<line x1="226.1" y1="31.1" x2="227.9" y2="31.1" stroke="#555" stroke-width="0.8"/>
<line x1="226.1" y1="62.9" x2="227.9" y2="62.9" stroke="#555" stroke-width="0.8"/>
<line x1="381.70" y1="15.2" x2="381.70" y2="78.8" stroke="#d4d4d4" stroke-width="0.9"/>
<line x1="397.55" y1="15.2" x2="397.55" y2="78.8" stroke="#d4d4d4" stroke-width="0.9"/>
<line x1="413.40" y1="15.2" x2="413.40" y2="78.8" stroke="#d4d4d4" stroke-width="0.9"/>
<line x1="429.25" y1="15.2" x2="429.25" y2="78.8" stroke="#d4d4d4" stroke-width="0.9"/>
<line x1="445.10" y1="15.2" x2="445.10" y2="78.8" stroke="#d4d4d4" stroke-width="0.9"/>
<line x1="460.95" y1="15.2" x2="460.95" y2="78.8" stroke="#d4d4d4" stroke-width="0.9"/>
<line x1="476.80" y1="15.2" x2="476.80" y2="78.8" stroke="#d4d4d4" stroke-width="0.9"/>
<line x1="492.65" y1="15.2" x2="492.65" y2="78.8" stroke="#d4d4d4" stroke-width="0.9"/>
<line x1="508.50" y1="15.2" x2="508.50" y2="78.8" stroke="#d4d4d4" stroke-width="0.9"/>
<rect x="373.5" y="15.2" width="141.79999999999995" height="63.599999999999994" fill="none" stroke="#555" stroke-width="1.2"/>
<line x1="372.5" y1="31.1" x2="374.5" y2="31.1" stroke="#555" stroke-width="0.8"/>
<line x1="372.5" y1="47.0" x2="374.5" y2="47.0" stroke="#555" stroke-width="0.8"/>
<line x1="372.5" y1="62.9" x2="374.5" y2="62.9" stroke="#555" stroke-width="0.8"/>
<line x1="235.80" y1="86.4" x2="235.80" y2="149.7" stroke="#d4d4d4" stroke-width="0.9"/>
<line x1="251.65" y1="86.4" x2="251.65" y2="149.7" stroke="#d4d4d4" stroke-width="0.9"/>
<line x1="267.50" y1="86.4" x2="267.50" y2="149.7" stroke="#d4d4d4" stroke-width="0.9"/>
<line x1="283.35" y1="86.4" x2="283.35" y2="149.7" stroke="#d4d4d4" stroke-width="0.9"/>
<line x1="299.20" y1="86.4" x2="299.20" y2="149.7" stroke="#d4d4d4" stroke-width="0.9"/>
<line x1="315.05" y1="86.4" x2="315.05" y2="149.7" stroke="#d4d4d4" stroke-width="0.9"/>
<line x1="330.90" y1="86.4" x2="330.90" y2="149.7" stroke="#d4d4d4" stroke-width="0.9"/>
<line x1="346.75" y1="86.4" x2="346.75" y2="149.7" stroke="#d4d4d4" stroke-width="0.9"/>
<line x1="362.60" y1="86.4" x2="362.60" y2="149.7" stroke="#d4d4d4" stroke-width="0.9"/>
<rect x="227.9" y="86.4" width="141.70000000000002" height="63.29999999999998" fill="none" stroke="#555" stroke-width="1.2"/>
<line x1="224.5" y1="86.4" x2="227.9" y2="86.4" stroke="#555" stroke-width="1"/>
<line x1="224.5" y1="118.05" x2="227.9" y2="118.05" stroke="#555" stroke-width="1"/>
<line x1="224.5" y1="149.7" x2="227.9" y2="149.7" stroke="#555" stroke-width="1"/>
<line x1="226.1" y1="102.225" x2="227.9" y2="102.225" stroke="#555" stroke-width="0.8"/>
<line x1="226.1" y1="133.875" x2="227.9" y2="133.875" stroke="#555" stroke-width="0.8"/>
<line x1="381.70" y1="86.4" x2="381.70" y2="149.7" stroke="#d4d4d4" stroke-width="0.9"/>
<line x1="397.55" y1="86.4" x2="397.55" y2="149.7" stroke="#d4d4d4" stroke-width="0.9"/>
<line x1="413.40" y1="86.4" x2="413.40" y2="149.7" stroke="#d4d4d4" stroke-width="0.9"/>
<line x1="429.25" y1="86.4" x2="429.25" y2="149.7" stroke="#d4d4d4" stroke-width="0.9"/>
<line x1="445.10" y1="86.4" x2="445.10" y2="149.7" stroke="#d4d4d4" stroke-width="0.9"/>
<line x1="460.95" y1="86.4" x2="460.95" y2="149.7" stroke="#d4d4d4" stroke-width="0.9"/>
<line x1="476.80" y1="86.4" x2="476.80" y2="149.7" stroke="#d4d4d4" stroke-width="0.9"/>
<line x1="492.65" y1="86.4" x2="492.65" y2="149.7" stroke="#d4d4d4" stroke-width="0.9"/>
<line x1="508.50" y1="86.4" x2="508.50" y2="149.7" stroke="#d4d4d4" stroke-width="0.9"/>
<rect x="373.5" y="86.4" width="141.79999999999995" height="63.29999999999998" fill="none" stroke="#555" stroke-width="1.2"/>
<line x1="372.5" y1="102.225" x2="374.5" y2="102.225" stroke="#555" stroke-width="0.8"/>
<line x1="372.5" y1="118.05" x2="374.5" y2="118.05" stroke="#555" stroke-width="0.8"/>
<line x1="372.5" y1="133.875" x2="374.5" y2="133.875" stroke="#555" stroke-width="0.8"/>
<text x="221.9" y="17.8" font-size="6.5" font-weight="normal" fill="#333" text-anchor="end" >1.0</text>
<text x="221.9" y="49.6" font-size="6.5" font-weight="normal" fill="#333" text-anchor="end" >0.0</text>
<text x="221.9" y="81.39999999999999" font-size="6.5" font-weight="normal" fill="#333" text-anchor="end" >-1.0</text>
<text x="221.9" y="89.0" font-size="6.5" font-weight="normal" fill="#333" text-anchor="end" >1.0</text>
<text x="221.9" y="120.64999999999999" font-size="6.5" font-weight="normal" fill="#333" text-anchor="end" >0.0</text>
<text x="221.9" y="152.29999999999998" font-size="6.5" font-weight="normal" fill="#333" text-anchor="end" >-1.0</text>
<text x="0" y="0" font-size="7.95" font-weight="bold" fill="#111" text-anchor="middle" transform="translate(206.7,85.5) rotate(-90)">Relative Gene Expression(log units)</text>
<text x="235.8" y="158.0" font-size="6.2" font-weight="bold" fill="#111" text-anchor="middle" >1</text>
<text x="251.65" y="158.0" font-size="6.2" font-weight="bold" fill="#111" text-anchor="middle" >2</text>
<text x="267.5" y="158.0" font-size="6.2" font-weight="bold" fill="#111" text-anchor="middle" >3</text>
<text x="283.35" y="158.0" font-size="6.2" font-weight="bold" fill="#111" text-anchor="middle" >1</text>
<text x="299.2" y="158.0" font-size="6.2" font-weight="bold" fill="#111" text-anchor="middle" >2</text>
<text x="315.05" y="158.0" font-size="6.2" font-weight="bold" fill="#111" text-anchor="middle" >3</text>
<text x="330.9" y="158.0" font-size="6.2" font-weight="bold" fill="#111" text-anchor="middle" >1</text>
<text x="346.75" y="158.0" font-size="6.2" font-weight="bold" fill="#111" text-anchor="middle" >2</text>
<text x="362.6" y="158.0" font-size="6.2" font-weight="bold" fill="#111" text-anchor="middle" >3</text>
<text x="381.7" y="158.0" font-size="6.2" font-weight="bold" fill="#111" text-anchor="middle" >1</text>
<text x="397.55" y="158.0" font-size="6.2" font-weight="bold" fill="#111" text-anchor="middle" >2</text>
<text x="413.4" y="158.0" font-size="6.2" font-weight="bold" fill="#111" text-anchor="middle" >3</text>
<text x="429.25" y="158.0" font-size="6.2" font-weight="bold" fill="#111" text-anchor="middle" >1</text>
<text x="445.1" y="158.0" font-size="6.2" font-weight="bold" fill="#111" text-anchor="middle" >2</text>
<text x="460.95" y="158.0" font-size="6.2" font-weight="bold" fill="#111" text-anchor="middle" >3</text>
<text x="476.8" y="158.0" font-size="6.2" font-weight="bold" fill="#111" text-anchor="middle" >1</text>
<text x="492.65" y="158.0" font-size="6.2" font-weight="bold" fill="#111" text-anchor="middle" >2</text>
<text x="508.5" y="158.0" font-size="6.2" font-weight="bold" fill="#111" text-anchor="middle" >3</text>
<g stroke="#999" stroke-width="1.1">
<line x1="232.40" y1="159.6" x2="270.00" y2="159.6"/>
<line x1="279.95" y1="159.6" x2="317.55" y2="159.6"/>
<line x1="327.50" y1="159.6" x2="365.10" y2="159.6"/>
<line x1="378.30" y1="159.6" x2="415.90" y2="159.6"/>
<line x1="425.85" y1="159.6" x2="463.45" y2="159.6"/>
<line x1="473.40" y1="159.6" x2="511.00" y2="159.6"/>
</g>
<text x="251.7" y="168.3" font-size="7.0" font-weight="bold" fill="#111" text-anchor="middle" textLength="36.8" lengthAdjust="spacingAndGlyphs">Monocytes</text>
<text x="301.4" y="168.3" font-size="7.0" font-weight="bold" fill="#111" text-anchor="middle" textLength="18.8" lengthAdjust="spacingAndGlyphs">imDC</text>
<text x="346.3" y="168.3" font-size="7.0" font-weight="bold" fill="#111" text-anchor="middle" textLength="41.5" lengthAdjust="spacingAndGlyphs">Macrophages</text>
<text x="399.3" y="168.3" font-size="7.0" font-weight="bold" fill="#111" text-anchor="middle" textLength="36.8" lengthAdjust="spacingAndGlyphs">Monocytes</text>
<text x="446.75" y="168.3" font-size="7.0" font-weight="bold" fill="#111" text-anchor="middle" textLength="18.8" lengthAdjust="spacingAndGlyphs">imDC</text>
<text x="493.6" y="168.3" font-size="7.0" font-weight="bold" fill="#111" text-anchor="middle" textLength="41.5" lengthAdjust="spacingAndGlyphs">Macrophages</text>
<path d="M235.80,47.00 L251.65,35.00 L267.50,41.50 L283.35,44.00 L299.20,44.00 L315.05,46.00 L330.90,50.00 L346.75,48.00 L362.60,46.00" fill="none" stroke="#3f78e0" stroke-width="0.8" stroke-opacity="0.85" stroke-linejoin="round"/>
<path d="M235.80,46.00 L251.65,41.00 L267.50,44.00 L283.35,46.00 L299.20,36.50 L315.05,39.50 L330.90,48.00 L346.75,47.00 L362.60,45.00" fill="none" stroke="#3f78e0" stroke-width="0.8" stroke-opacity="0.85" stroke-linejoin="round"/>
<path d="M235.80,44.00 L251.65,46.00 L267.50,47.00 L283.35,48.50 L299.20,42.00 L315.05,44.00 L330.90,50.00 L346.75,46.00 L362.60,44.00" fill="none" stroke="#3f78e0" stroke-width="0.8" stroke-opacity="0.85" stroke-linejoin="round"/>
<path d="M235.80,49.00 L251.65,44.00 L267.50,49.00 L283.35,50.50 L299.20,43.00 L315.05,48.00 L330.90,56.00 L346.75,49.00 L362.60,47.00" fill="none" stroke="#3f78e0" stroke-width="0.8" stroke-opacity="0.85" stroke-linejoin="round"/>
<path d="M235.80,45.00 L251.65,47.00 L267.50,45.00 L283.35,45.00 L299.20,45.00 L315.05,46.00 L330.90,48.00 L346.75,45.00 L362.60,47.00" fill="none" stroke="#3f78e0" stroke-width="0.8" stroke-opacity="0.85" stroke-linejoin="round"/>
<path d="M235.80,50.00 L251.65,46.00 L267.50,48.00 L283.35,47.00 L299.20,47.00 L315.05,50.00 L330.90,51.00 L346.75,47.00 L362.60,49.00" fill="none" stroke="#3f78e0" stroke-width="0.8" stroke-opacity="0.85" stroke-linejoin="round"/>
<path d="M235.80,47.00 L251.65,48.00 L267.50,50.50 L283.35,43.50 L299.20,46.00 L315.05,41.00 L330.90,46.00 L346.75,50.00 L362.60,45.00" fill="none" stroke="#3f78e0" stroke-width="0.8" stroke-opacity="0.85" stroke-linejoin="round"/>
<path d="M235.80,52.00 L251.65,45.00 L267.50,46.00 L283.35,49.50 L299.20,48.00 L315.05,49.00 L330.90,49.00 L346.75,46.00 L362.60,48.00" fill="none" stroke="#3f78e0" stroke-width="0.8" stroke-opacity="0.85" stroke-linejoin="round"/>
<path d="M235.80,43.00 L251.65,49.00 L267.50,47.00 L283.35,46.00 L299.20,44.00 L315.05,47.00 L330.90,52.00 L346.75,48.00 L362.60,44.00" fill="none" stroke="#3f78e0" stroke-width="0.8" stroke-opacity="0.85" stroke-linejoin="round"/>
<path d="M235.80,48.00 L251.65,45.00 L267.50,43.00 L283.35,48.00 L299.20,46.00 L315.05,45.00 L330.90,47.00 L346.75,44.00 L362.60,46.00" fill="none" stroke="#3f78e0" stroke-width="0.8" stroke-opacity="0.85" stroke-linejoin="round"/>
<path d="M235.80,46.00 L251.65,43.00 L267.50,46.00 L283.35,47.00 L299.20,42.00 L315.05,43.00 L330.90,49.00 L346.75,47.00 L362.60,48.00" fill="none" stroke="#3f78e0" stroke-width="0.8" stroke-opacity="0.85" stroke-linejoin="round"/>
<path d="M235.80,51.00 L251.65,47.00 L267.50,49.00 L283.35,45.00 L299.20,45.00 L315.05,48.00 L330.90,50.00 L346.75,45.00 L362.60,49.00" fill="none" stroke="#3f78e0" stroke-width="0.8" stroke-opacity="0.85" stroke-linejoin="round"/>
<path d="M235.80,45.00 L251.65,46.00 L267.50,48.00 L283.35,47.00 L299.20,49.00 L315.05,50.00 L330.90,47.00 L346.75,49.00 L362.60,45.00" fill="none" stroke="#3f78e0" stroke-width="0.8" stroke-opacity="0.85" stroke-linejoin="round"/>
<path d="M235.80,49.00 L251.65,48.00 L267.50,45.00 L283.35,46.00 L299.20,41.00 L315.05,42.00 L330.90,49.00 L346.75,46.00 L362.60,47.00" fill="none" stroke="#3f78e0" stroke-width="0.8" stroke-opacity="0.85" stroke-linejoin="round"/>
<path d="M381.70,54.00 L397.55,58.10 L413.40,52.50 L429.25,48.10 L445.10,44.40 L460.95,48.10 L476.80,38.70 L492.65,33.40 L508.50,30.10" fill="none" stroke="#222" stroke-width="0.8" stroke-opacity="1.0" stroke-linejoin="round"/>
<path d="M381.70,54.00 L397.55,60.10 L413.40,59.10 L429.25,48.10 L445.10,49.40 L460.95,46.90 L476.80,38.70 L492.65,34.90 L508.50,37.80" fill="none" stroke="#222" stroke-width="0.8" stroke-opacity="1.0" stroke-linejoin="round"/>
<path d="M381.70,54.00 L397.55,63.20 L413.40,66.20 L429.25,48.10 L445.10,50.00 L460.95,51.25 L476.80,38.70 L492.65,41.20 L508.50,37.00" fill="none" stroke="#222" stroke-width="0.8" stroke-opacity="1.0" stroke-linejoin="round"/>
<path d="M235.80,131.00 L251.65,130.40 L267.50,139.00 L283.35,101.00 L299.20,94.50 L315.05,124.00 L330.90,117.00 L346.75,110.00 L362.60,114.00" fill="none" stroke="#dd4a28" stroke-width="0.8" stroke-opacity="0.9" stroke-linejoin="round"/>
<path d="M235.80,131.00 L251.65,124.00 L267.50,126.40 L283.35,112.00 L299.20,116.00 L315.05,113.00 L330.90,118.00 L346.75,109.00 L362.60,114.00" fill="none" stroke="#dd4a28" stroke-width="0.8" stroke-opacity="0.9" stroke-linejoin="round"/>
<path d="M235.80,116.00 L251.65,121.00 L267.50,121.00 L283.35,110.00 L299.20,112.00 L315.05,109.00 L330.90,116.00 L346.75,121.00 L362.60,118.00" fill="none" stroke="#dd4a28" stroke-width="0.8" stroke-opacity="0.9" stroke-linejoin="round"/>
<path d="M235.80,118.00 L251.65,122.00 L267.50,122.00 L283.35,111.00 L299.20,114.00 L315.05,111.00 L330.90,117.00 L346.75,122.00 L362.60,120.00" fill="none" stroke="#dd4a28" stroke-width="0.8" stroke-opacity="0.9" stroke-linejoin="round"/>
<path d="M235.80,120.00 L251.65,123.00 L267.50,123.00 L283.35,113.00 L299.20,117.00 L315.05,113.00 L330.90,115.00 L346.75,123.00 L362.60,122.00" fill="none" stroke="#dd4a28" stroke-width="0.8" stroke-opacity="0.9" stroke-linejoin="round"/>
<path d="M235.80,122.00 L251.65,121.00 L267.50,124.00 L283.35,114.00 L299.20,119.00 L315.05,115.00 L330.90,119.00 L346.75,120.00 L362.60,116.00" fill="none" stroke="#dd4a28" stroke-width="0.8" stroke-opacity="0.9" stroke-linejoin="round"/>
<path d="M235.80,124.00 L251.65,123.00 L267.50,122.00 L283.35,112.00 L299.20,121.00 L315.05,117.00 L330.90,114.00 L346.75,110.50 L362.60,115.00" fill="none" stroke="#dd4a28" stroke-width="0.8" stroke-opacity="0.9" stroke-linejoin="round"/>
<path d="M235.80,119.00 L251.65,124.00 L267.50,125.00 L283.35,113.00 L299.20,118.00 L315.05,116.00 L330.90,118.00 L346.75,121.00 L362.60,121.00" fill="none" stroke="#dd4a28" stroke-width="0.8" stroke-opacity="0.9" stroke-linejoin="round"/>
<path d="M381.70,93.00 L397.55,100.00 L413.40,92.00 L429.25,104.50 L445.10,110.00 L460.95,118.00 L476.80,120.00 L492.65,116.00 L508.50,112.00" fill="none" stroke="#62a83a" stroke-width="0.8" stroke-opacity="0.9" stroke-linejoin="round"/>
<path d="M381.70,98.70 L397.55,101.60 L413.40,108.00 L429.25,115.00 L445.10,107.40 L460.95,120.00 L476.80,125.00 L492.65,122.00 L508.50,108.00" fill="none" stroke="#62a83a" stroke-width="0.8" stroke-opacity="0.9" stroke-linejoin="round"/>
<path d="M381.70,107.00 L397.55,106.00 L413.40,108.00 L429.25,116.00 L445.10,120.00 L460.95,122.00 L476.80,117.00 L492.65,119.00 L508.50,118.00" fill="none" stroke="#62a83a" stroke-width="0.8" stroke-opacity="0.9" stroke-linejoin="round"/>
<path d="M381.70,108.00 L397.55,110.00 L413.40,107.00 L429.25,118.00 L445.10,122.00 L460.95,126.00 L476.80,128.00 L492.65,124.00 L508.50,115.00" fill="none" stroke="#62a83a" stroke-width="0.8" stroke-opacity="0.9" stroke-linejoin="round"/>
<path d="M381.70,110.00 L397.55,108.00 L413.40,110.00 L429.25,120.00 L445.10,118.00 L460.95,121.00 L476.80,122.00 L492.65,115.00 L508.50,120.00" fill="none" stroke="#62a83a" stroke-width="0.8" stroke-opacity="0.9" stroke-linejoin="round"/>
<path d="M381.70,111.00 L397.55,112.00 L413.40,109.00 L429.25,125.00 L445.10,126.00 L460.95,139.00 L476.80,130.00 L492.65,127.00 L508.50,121.00" fill="none" stroke="#62a83a" stroke-width="0.8" stroke-opacity="0.9" stroke-linejoin="round"/>
<path d="M381.70,112.00 L397.55,109.00 L413.40,112.00 L429.25,122.00 L445.10,123.00 L460.95,118.00 L476.80,121.00 L492.65,123.00 L508.50,110.00" fill="none" stroke="#62a83a" stroke-width="0.8" stroke-opacity="0.9" stroke-linejoin="round"/>
<path d="M381.70,113.00 L397.55,113.00 L413.40,111.00 L429.25,132.00 L445.10,127.00 L460.95,124.00 L476.80,134.80 L492.65,134.80 L508.50,124.00" fill="none" stroke="#62a83a" stroke-width="0.8" stroke-opacity="0.9" stroke-linejoin="round"/>
<path d="M381.70,114.00 L397.55,111.00 L413.40,113.00 L429.25,119.00 L445.10,121.00 L460.95,125.00 L476.80,119.00 L492.65,118.00 L508.50,116.00" fill="none" stroke="#62a83a" stroke-width="0.8" stroke-opacity="0.9" stroke-linejoin="round"/>
<path d="M381.70,115.00 L397.55,114.00 L413.40,108.00 L429.25,121.00 L445.10,124.00 L460.95,120.00 L476.80,126.00 L492.65,121.00 L508.50,114.00" fill="none" stroke="#62a83a" stroke-width="0.8" stroke-opacity="0.9" stroke-linejoin="round"/>
<path d="M381.70,116.00 L397.55,112.00 L413.40,114.00 L429.25,117.00 L445.10,119.00 L460.95,117.00 L476.80,123.00 L492.65,126.00 L508.50,119.00" fill="none" stroke="#62a83a" stroke-width="0.8" stroke-opacity="0.9" stroke-linejoin="round"/>
<path d="M381.70,117.50 L397.55,116.00 L413.40,110.00 L429.25,124.00 L445.10,125.00 L460.95,127.00 L476.80,124.00 L492.65,120.00 L508.50,117.00" fill="none" stroke="#62a83a" stroke-width="0.8" stroke-opacity="0.9" stroke-linejoin="round"/>
<path d="M381.70,109.00 L397.55,107.00 L413.40,112.00 L429.25,126.00 L445.10,122.00 L460.95,123.00 L476.80,118.00 L492.65,117.00 L508.50,111.00" fill="none" stroke="#62a83a" stroke-width="0.8" stroke-opacity="0.9" stroke-linejoin="round"/>
<path d="M381.70,112.00 L397.55,115.00 L413.40,106.00 L429.25,114.60 L445.10,117.50 L460.95,116.00 L476.80,127.00 L492.65,125.00 L508.50,123.00" fill="none" stroke="#62a83a" stroke-width="0.8" stroke-opacity="0.9" stroke-linejoin="round"/>
<path d="M381.70,110.00 L397.55,117.50 L413.40,113.00 L429.25,123.00 L445.10,120.00 L460.95,122.00 L476.80,120.00 L492.65,122.00 L508.50,107.40" fill="none" stroke="#62a83a" stroke-width="0.8" stroke-opacity="0.9" stroke-linejoin="round"/>
<path d="M381.70,114.00 L397.55,108.00 L413.40,111.00 L429.25,127.60 L445.10,128.00 L460.95,125.00 L476.80,116.00 L492.65,118.00 L508.50,120.00" fill="none" stroke="#62a83a" stroke-width="0.8" stroke-opacity="0.9" stroke-linejoin="round"/>
<line x1="302.00" y1="202.0" x2="302.00" y2="338.4" stroke="#ececec" stroke-width="0.9"/>
<line x1="324.40" y1="202.0" x2="324.40" y2="338.4" stroke="#ececec" stroke-width="0.9"/>
<line x1="346.30" y1="202.0" x2="346.30" y2="338.4" stroke="#ececec" stroke-width="0.9"/>
<line x1="369.60" y1="202.0" x2="369.60" y2="338.4" stroke="#ececec" stroke-width="0.9"/>
<line x1="392.60" y1="202.0" x2="392.60" y2="338.4" stroke="#ececec" stroke-width="0.9"/>
<line x1="415.10" y1="202.0" x2="415.10" y2="338.4" stroke="#ececec" stroke-width="0.9"/>
<line x1="437.50" y1="202.0" x2="437.50" y2="338.4" stroke="#ececec" stroke-width="0.9"/>
<line x1="460.10" y1="202.0" x2="460.10" y2="338.4" stroke="#ececec" stroke-width="0.9"/>
<line x1="482.60" y1="202.0" x2="482.60" y2="338.4" stroke="#ececec" stroke-width="0.9"/>
<rect x="290.2" y="202.0" width="204.10000000000002" height="136.39999999999998" fill="none" stroke="#b0b0b0" stroke-width="1"/>
<text x="287.8" y="225.8" font-size="5.0" font-weight="bold" fill="#222" text-anchor="end" >3</text>
<text x="287.8" y="263.0" font-size="5.0" font-weight="bold" fill="#222" text-anchor="end" >2</text>
<text x="287.8" y="303.9" font-size="5.0" font-weight="bold" fill="#222" text-anchor="end" >1</text>
<text x="287.8" y="337.0" font-size="5.0" font-weight="bold" fill="#222" text-anchor="end" >0</text>
<text x="0" y="0" font-size="7.95" font-weight="bold" fill="#111" text-anchor="middle" transform="translate(276.2,272) rotate(-90)">Gene Expression (log units)</text>
<path d="M302.00,231.00 L324.40,232.70 L346.30,239.60 L369.60,285.00 L392.60,296.50 L415.10,276.30 L437.50,294.90 L460.10,299.90 L482.60,281.00" fill="none" stroke="#d43a2a" stroke-width="1.25" stroke-opacity="1.0" stroke-linejoin="round"/>
<path d="M302.00,258.50 L324.40,272.70 L346.30,281.80 L369.60,266.60 L392.60,281.20 L415.10,285.50 L437.50,279.20 L460.10,280.60 L482.60,281.00" fill="none" stroke="#3a46d8" stroke-width="1.25" stroke-opacity="1.0" stroke-linejoin="round"/>
<path d="M302.00,275.10 L324.40,277.10 L346.30,274.40 L369.60,275.60 L392.60,282.70 L415.10,281.20 L437.50,280.20 L460.10,285.30 L482.60,281.00" fill="none" stroke="#222222" stroke-width="1.25" stroke-opacity="1.0" stroke-linejoin="round"/>
<path d="M302.00,275.90 L324.40,288.60 L346.30,295.50 L369.60,281.20 L392.60,291.40 L415.10,294.50 L437.50,288.90 L460.10,287.60 L482.60,295.50" fill="none" stroke="#b050d8" stroke-width="1.25" stroke-opacity="1.0" stroke-linejoin="round"/>
<path d="M302.00,291.60 L324.40,303.30 L346.30,295.50 L369.60,300.20 L392.60,314.10 L415.10,306.30 L437.50,275.50 L460.10,291.10 L482.60,266.50" fill="none" stroke="#6ab040" stroke-width="1.25" stroke-opacity="1.0" stroke-linejoin="round"/>
<path d="M302.00,301.40 L324.40,303.30 L346.30,305.80 L369.60,307.60 L392.60,297.80 L415.10,301.80 L437.50,299.80 L460.10,303.50 L482.60,297.80" fill="none" stroke="#e68a30" stroke-width="1.25" stroke-opacity="1.0" stroke-linejoin="round"/>
<text x="485.0" y="265.5" font-size="6.4" font-weight="bold" fill="#7fd040" text-anchor="start" >3B</text>
<text x="485.0" y="281.3" font-size="6.4" font-weight="bold" fill="#3a46c0" text-anchor="start" >3G</text>
<text x="485.0" y="285.90000000000003" font-size="6.4" font-weight="bold" fill="#111" text-anchor="start" >3C</text>
<text x="485.0" y="293.5" font-size="6.4" font-weight="bold" fill="#d83a2a" text-anchor="start" >3A</text>
<text x="485.0" y="299.8" font-size="6.4" font-weight="bold" fill="#c070e0" text-anchor="start" >3G/F</text>
<text x="485.0" y="305.90000000000003" font-size="6.4" font-weight="bold" fill="#e8902e" text-anchor="start" >3F</text>
<text x="302.5" y="345.8" font-size="6.2" font-weight="bold" fill="#111" text-anchor="middle" >1</text>
<text x="325.6" y="345.8" font-size="6.2" font-weight="bold" fill="#111" text-anchor="middle" >2</text>
<text x="345.2" y="345.8" font-size="6.2" font-weight="bold" fill="#111" text-anchor="middle" >3</text>
<text x="369.4" y="345.8" font-size="6.2" font-weight="bold" fill="#111" text-anchor="middle" >1</text>
<text x="392.8" y="345.8" font-size="6.2" font-weight="bold" fill="#111" text-anchor="middle" >2</text>
<text x="415.2" y="345.8" font-size="6.2" font-weight="bold" fill="#111" text-anchor="middle" >3</text>
<text x="437.5" y="345.8" font-size="6.2" font-weight="bold" fill="#111" text-anchor="middle" >1</text>
<text x="460.2" y="345.8" font-size="6.2" font-weight="bold" fill="#111" text-anchor="middle" >2</text>
<text x="481.7" y="345.8" font-size="6.2" font-weight="bold" fill="#111" text-anchor="middle" >3</text>
<text x="487" y="345.6" font-size="6.4" font-weight="normal" fill="#333" text-anchor="start" >donor</text>
<g stroke="#888" stroke-width="1.6">
<line x1="300.20" y1="347.6" x2="352.10" y2="347.6"/>
<line x1="368.00" y1="347.6" x2="420.60" y2="347.6"/>
<line x1="436.00" y1="347.6" x2="484.40" y2="347.6"/>
</g>
<text x="325.1" y="358.4" font-size="7.8" font-weight="bold" fill="#111" text-anchor="middle" >Monocytes</text>
<text x="395.7" y="358.4" font-size="7.8" font-weight="bold" fill="#111" text-anchor="middle" >imDC</text>
<text x="464.6" y="358.4" font-size="7.8" font-weight="bold" fill="#111" text-anchor="middle" >Macrophages</text>
</svg></body></html>
